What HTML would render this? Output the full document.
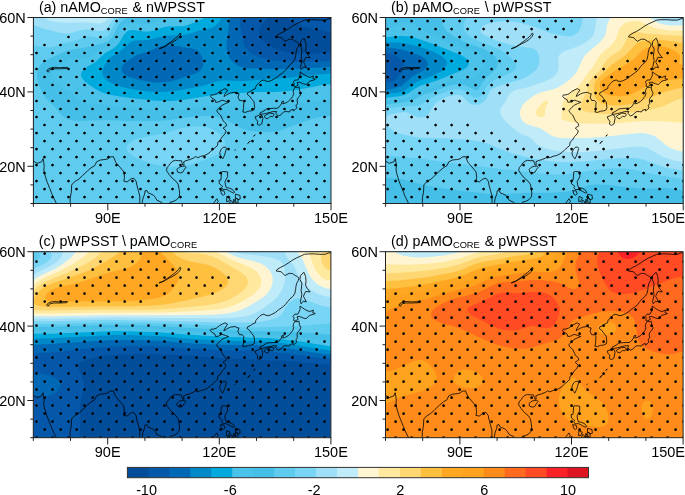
<!DOCTYPE html>
<html><head><meta charset="utf-8"><style>
html,body{margin:0;padding:0;background:#fff;width:685px;height:495px;overflow:hidden}
svg{display:block}
text{font-family:"Liberation Sans",sans-serif;fill:#000}
.lb{font-size:14.5px}
.tt{font-size:14.3px}
.sub{font-size:9.3px}
</style></head><body>
<svg width="685" height="495" viewBox="0 0 685 495">
<defs><clipPath id="cpa"><rect x="33.4" y="17.5" width="297.6" height="186.0"/></clipPath><clipPath id="cpb"><rect x="385.6" y="17.5" width="297.6" height="186.0"/></clipPath><clipPath id="cpc"><rect x="33.3" y="251.7" width="297.6" height="186.0"/></clipPath><clipPath id="cpd"><rect x="385.5" y="251.7" width="297.6" height="186.0"/></clipPath></defs>
<g clip-path="url(#cpa)"><rect x="33.4" y="17.5" width="297.6" height="186.0" fill="#024d9a"/><path fill="#0558a9" fill-rule="evenodd" d="M34.4 17.5 269.0 17.5 265.3 20.7 261.3 25.6 259.4 29.4 258.8 33.4 259.5 36.4 261.4 39.4 265.3 42.9 270.7 46.3 274.6 48.3 279.2 50.1 287.5 52.3 293.2 53.5 313.1 53.6 327.0 52.9 331.0 52.1 331.0 203.5 33.4 203.5 33.4 17.5ZM285.2 17.5 331.0 17.5 331.0 33.1 325.0 31.1 311.1 28.6 304.1 26.7 295.2 23.1Z"/><path fill="#0068b4" fill-rule="evenodd" d="M34.4 17.5 240.9 17.5 240.2 19.5 240.0 21.5 240.3 26.5 242.3 37.4 244.0 43.4 245.8 47.3 248.0 50.3 251.3 53.3 254.6 55.3 260.3 57.6 267.3 59.3 275.3 60.6 286.2 61.6 298.2 61.9 331.0 60.7 331.0 203.5 33.4 203.5 33.4 17.5Z"/><path fill="#0088c8" fill-rule="evenodd" d="M34.4 17.5 230.5 17.5 228.9 25.5 226.7 42.4 226.5 46.3 226.8 50.3 228.2 55.3 230.4 59.3 234.1 63.3 238.4 66.0 242.4 67.3 247.4 68.2 264.3 69.0 284.2 69.1 299.1 68.7 331.0 66.8 331.0 203.5 33.4 203.5 33.4 17.5ZM161.0 46.3 155.8 48.1 147.9 51.8 136.9 55.3 131.9 58.0 125.9 62.3 123.0 65.3 122.0 67.2 121.7 69.2 122.1 71.2 123.3 73.2 125.0 74.8 127.0 76.0 129.9 77.3 135.9 79.1 145.9 81.3 155.8 82.4 164.8 82.3 169.8 81.5 174.7 80.2 194.6 73.7 197.6 72.5 199.6 71.2 202.0 68.2 203.3 64.2 203.3 61.3 203.0 59.3 201.7 56.3 200.0 53.3 198.3 51.3 196.6 50.1 194.6 49.2 191.7 48.5 172.7 45.6 166.8 45.4Z"/><path fill="#00aadd" fill-rule="evenodd" d="M34.4 17.5 221.5 17.5 219.5 21.2 216.5 24.8 213.6 26.9 209.6 28.5 199.6 30.6 189.7 33.7 185.7 34.6 179.7 35.2 165.8 35.8 148.9 39.7 144.9 40.1 136.5 40.4 132.9 41.0 130.9 41.9 129.0 43.2 123.0 49.0 120.0 51.4 110.8 57.3 109.0 58.8 107.0 61.3 104.5 65.2 103.1 68.2 102.4 71.2 102.4 73.2 102.9 75.2 104.0 77.2 105.6 79.2 107.9 81.2 113.1 84.1 120.0 86.6 129.9 88.8 140.9 90.5 151.8 91.7 159.8 92.0 169.8 91.6 176.7 90.8 197.4 87.1 205.4 85.1 216.5 81.6 221.5 80.6 226.5 80.5 238.4 81.1 245.4 80.9 286.2 77.9 303.1 76.3 313.1 74.9 331.0 73.3 331.0 203.5 33.4 203.5 33.4 17.5Z"/><path fill="#4bc2e9" fill-rule="evenodd" d="M34.4 17.5 205.4 17.5 198.6 20.8 187.7 24.9 182.7 26.3 170.8 26.2 166.8 26.6 162.8 27.5 153.8 30.5 148.9 31.6 143.9 31.5 134.9 30.2 131.9 30.1 129.0 30.6 127.0 31.6 124.0 34.8 119.0 43.0 116.0 46.2 113.0 48.5 104.9 53.3 97.1 60.6 94.1 62.9 87.9 66.2 85.1 68.2 82.0 71.2 81.1 73.2 80.9 75.2 82.2 78.2 84.7 81.2 89.5 85.1 95.1 88.8 100.1 91.5 105.1 93.4 111.0 95.0 126.0 97.4 152.8 100.4 162.8 101.1 171.7 101.0 182.7 100.0 211.6 95.3 222.5 94.0 245.4 92.8 257.3 91.9 275.3 91.9 293.2 90.5 310.1 87.6 322.0 85.1 331.0 84.2 331.0 203.5 33.4 203.5 33.4 17.5Z"/><path fill="#45bfe7" fill-rule="evenodd" d="M34.4 17.5 163.6 17.5 153.8 22.8 148.9 24.3 143.9 24.3 132.9 22.7 129.0 22.9 126.0 23.8 123.3 25.5 122.0 27.0 117.5 36.4 115.0 40.4 113.0 42.6 110.0 44.9 99.6 50.3 91.1 56.5 89.1 57.7 85.2 58.3 74.2 58.4 70.2 59.2 67.2 60.4 62.4 63.3 58.1 66.2 54.3 69.6 53.0 71.2 52.0 73.2 52.0 76.2 53.5 80.2 56.3 83.8 58.3 85.5 61.3 87.5 70.9 92.1 77.2 97.8 80.2 99.9 83.2 101.3 87.1 102.7 96.1 104.3 115.0 106.3 144.9 108.5 158.8 110.2 166.8 110.5 180.7 109.8 199.6 106.9 213.6 105.9 226.5 106.2 250.4 108.3 256.4 108.5 262.3 108.2 282.2 106.0 322.0 100.1 331.0 99.4 331.0 203.5 33.4 203.5 33.4 17.5Z"/><path fill="#5ecbef" fill-rule="evenodd" d="M34.4 17.5 127.9 17.5 125.0 18.7 123.0 19.9 120.0 22.7 117.6 26.5 112.9 36.4 111.0 38.8 108.0 41.2 103.1 43.2 86.2 47.3 72.2 49.4 66.2 51.0 45.3 60.6 41.7 63.3 39.2 66.2 38.2 68.2 37.3 71.2 36.9 74.2 37.0 78.2 37.5 81.2 38.7 85.1 42.4 92.9 46.6 99.1 54.6 107.0 61.3 114.8 65.3 117.9 69.2 119.6 73.2 120.5 78.2 120.9 105.1 119.9 127.0 121.0 156.8 121.0 166.8 120.3 195.6 116.4 202.6 115.9 208.6 116.0 216.5 117.0 224.5 119.2 230.5 121.9 240.4 128.0 246.4 130.1 255.4 131.5 270.3 132.0 275.3 131.7 280.2 130.6 303.3 121.9 315.6 118.0 324.0 116.3 331.0 116.0 331.0 203.5 33.4 203.5 33.4 17.5Z"/><path fill="#78d5f5" fill-rule="evenodd" d="M34.4 17.5 119.5 17.5 117.0 20.5 115.0 23.5 109.0 34.7 108.0 35.8 106.1 37.1 103.1 37.8 100.1 38.0 96.1 37.5 90.1 36.2 87.1 36.3 73.2 41.2 61.3 44.1 52.3 47.2 49.3 47.4 33.4 45.3 33.4 17.5ZM189.7 126.9 196.6 126.3 201.6 126.4 206.6 127.2 211.6 128.8 215.5 130.7 218.7 132.9 221.6 135.9 224.1 139.8 225.3 143.8 225.3 146.8 224.2 149.8 222.5 151.8 220.5 153.3 217.6 154.8 204.6 159.8 192.7 164.0 184.7 165.9 174.7 167.0 169.8 166.9 164.8 166.5 154.8 164.5 137.9 158.9 133.9 156.8 131.0 154.8 128.0 151.8 126.8 149.8 126.4 147.8 126.6 146.8 127.0 145.8 128.5 143.8 132.8 140.8 137.5 138.8 143.9 137.2 163.8 133.4 181.7 127.9Z"/><path fill="#9fdff8" fill-rule="evenodd" d="M34.4 17.5 114.4 17.5 107.1 27.8 105.1 29.7 103.1 30.7 99.1 31.1 90.1 29.5 85.2 29.4 80.2 30.3 70.2 33.2 66.2 33.5 59.3 32.7 51.6 30.4 44.3 29.0 33.4 25.0 33.4 17.5Z"/><path fill="#c0ebf9" fill-rule="evenodd" d="M44.3 17.5 109.1 17.5 107.1 19.8 104.1 22.1 101.1 23.3 98.1 23.6 83.2 22.3 66.2 22.7 58.3 22.3 53.3 21.5 50.3 20.7 46.3 18.9 43.8 17.5Z"/><path stroke="#000" stroke-width="2.7" stroke-linecap="round" d="M116.5 21.1h0M132.5 21.1h0M148.5 21.1h0M164.5 21.1h0M180.5 21.1h0M196.5 21.1h0M212.5 21.1h0M228.5 21.1h0M244.5 21.1h0M260.5 21.1h0M276.5 21.1h0M292.5 21.1h0M308.5 21.1h0M324.5 21.1h0M92.5 29.1h0M108.5 29.1h0M124.5 29.1h0M140.5 29.1h0M156.5 29.1h0M172.5 29.1h0M188.5 29.1h0M204.5 29.1h0M220.5 29.1h0M236.5 29.1h0M252.5 29.1h0M268.5 29.1h0M284.5 29.1h0M300.5 29.1h0M316.5 29.1h0M68.5 37.0h0M84.5 37.0h0M100.5 37.0h0M116.5 37.0h0M132.5 37.0h0M148.5 37.0h0M164.5 37.0h0M180.5 37.0h0M196.5 37.0h0M212.5 37.0h0M228.5 37.0h0M244.5 37.0h0M260.5 37.0h0M276.5 37.0h0M292.5 37.0h0M308.5 37.0h0M324.5 37.0h0M44.5 45.0h0M60.5 45.0h0M76.5 45.0h0M92.5 45.0h0M108.5 45.0h0M124.5 45.0h0M140.5 45.0h0M156.5 45.0h0M172.5 45.0h0M188.5 45.0h0M204.5 45.0h0M220.5 45.0h0M236.5 45.0h0M252.5 45.0h0M268.5 45.0h0M284.5 45.0h0M300.5 45.0h0M316.5 45.0h0M36.5 53.0h0M52.5 53.0h0M68.5 53.0h0M84.5 53.0h0M100.5 53.0h0M116.5 53.0h0M132.5 53.0h0M148.5 53.0h0M164.5 53.0h0M180.5 53.0h0M196.5 53.0h0M212.5 53.0h0M228.5 53.0h0M244.5 53.0h0M260.5 53.0h0M276.5 53.0h0M292.5 53.0h0M308.5 53.0h0M324.5 53.0h0M44.5 61.0h0M60.5 61.0h0M76.5 61.0h0M92.5 61.0h0M108.5 61.0h0M124.5 61.0h0M140.5 61.0h0M156.5 61.0h0M172.5 61.0h0M188.5 61.0h0M204.5 61.0h0M220.5 61.0h0M236.5 61.0h0M252.5 61.0h0M268.5 61.0h0M284.5 61.0h0M300.5 61.0h0M316.5 61.0h0M36.5 69.0h0M52.5 69.0h0M68.5 69.0h0M84.5 69.0h0M100.5 69.0h0M116.5 69.0h0M132.5 69.0h0M148.5 69.0h0M164.5 69.0h0M180.5 69.0h0M196.5 69.0h0M212.5 69.0h0M228.5 69.0h0M244.5 69.0h0M260.5 69.0h0M276.5 69.0h0M292.5 69.0h0M308.5 69.0h0M324.5 69.0h0M44.5 77.0h0M60.5 77.0h0M76.5 77.0h0M92.5 77.0h0M108.5 77.0h0M124.5 77.0h0M140.5 77.0h0M156.5 77.0h0M172.5 77.0h0M188.5 77.0h0M204.5 77.0h0M220.5 77.0h0M236.5 77.0h0M252.5 77.0h0M268.5 77.0h0M284.5 77.0h0M300.5 77.0h0M316.5 77.0h0M36.5 85.0h0M52.5 85.0h0M68.5 85.0h0M84.5 85.0h0M100.5 85.0h0M116.5 85.0h0M132.5 85.0h0M148.5 85.0h0M164.5 85.0h0M180.5 85.0h0M196.5 85.0h0M212.5 85.0h0M228.5 85.0h0M244.5 85.0h0M260.5 85.0h0M276.5 85.0h0M292.5 85.0h0M308.5 85.0h0M324.5 85.0h0M44.5 93.0h0M60.5 93.0h0M76.5 93.0h0M92.5 93.0h0M108.5 93.0h0M124.5 93.0h0M140.5 93.0h0M156.5 93.0h0M172.5 93.0h0M188.5 93.0h0M204.5 93.0h0M220.5 93.0h0M236.5 93.0h0M252.5 93.0h0M268.5 93.0h0M284.5 93.0h0M300.5 93.0h0M316.5 93.0h0M36.5 101.0h0M52.5 101.0h0M68.5 101.0h0M84.5 101.0h0M100.5 101.0h0M116.5 101.0h0M132.5 101.0h0M148.5 101.0h0M164.5 101.0h0M180.5 101.0h0M196.5 101.0h0M212.5 101.0h0M228.5 101.0h0M244.5 101.0h0M260.5 101.0h0M276.5 101.0h0M292.5 101.0h0M308.5 101.0h0M324.5 101.0h0M44.5 109.0h0M60.5 109.0h0M76.5 109.0h0M92.5 109.0h0M108.5 109.0h0M124.5 109.0h0M140.5 109.0h0M156.5 109.0h0M172.5 109.0h0M188.5 109.0h0M204.5 109.0h0M220.5 109.0h0M236.5 109.0h0M252.5 109.0h0M268.5 109.0h0M284.5 109.0h0M300.5 109.0h0M316.5 109.0h0M36.5 117.0h0M52.5 117.0h0M68.5 117.0h0M84.5 117.0h0M100.5 117.0h0M116.5 117.0h0M132.5 117.0h0M148.5 117.0h0M164.5 117.0h0M180.5 117.0h0M196.5 117.0h0M212.5 117.0h0M228.5 117.0h0M244.5 117.0h0M260.5 117.0h0M276.5 117.0h0M292.5 117.0h0M308.5 117.0h0M324.5 117.0h0M44.5 125.0h0M60.5 125.0h0M76.5 125.0h0M92.5 125.0h0M108.5 125.0h0M124.5 125.0h0M140.5 125.0h0M156.5 125.0h0M172.5 125.0h0M188.5 125.0h0M204.5 125.0h0M220.5 125.0h0M236.5 125.0h0M252.5 125.0h0M268.5 125.0h0M284.5 125.0h0M300.5 125.0h0M316.5 125.0h0M36.5 133.1h0M52.5 133.1h0M68.5 133.1h0M84.5 133.1h0M100.5 133.1h0M116.5 133.1h0M132.5 133.1h0M148.5 133.1h0M164.5 133.1h0M180.5 133.1h0M196.5 133.1h0M212.5 133.1h0M228.5 133.1h0M244.5 133.1h0M260.5 133.1h0M276.5 133.1h0M292.5 133.1h0M308.5 133.1h0M324.5 133.1h0M44.5 141.1h0M60.5 141.1h0M76.5 141.1h0M92.5 141.1h0M108.5 141.1h0M124.5 141.1h0M140.5 141.1h0M156.5 141.1h0M172.5 141.1h0M188.5 141.1h0M204.5 141.1h0M220.5 141.1h0M236.5 141.1h0M252.5 141.1h0M268.5 141.1h0M284.5 141.1h0M300.5 141.1h0M316.5 141.1h0M36.5 149.1h0M52.5 149.1h0M68.5 149.1h0M84.5 149.1h0M100.5 149.1h0M116.5 149.1h0M132.5 149.1h0M148.5 149.1h0M164.5 149.1h0M180.5 149.1h0M196.5 149.1h0M212.5 149.1h0M228.5 149.1h0M244.5 149.1h0M260.5 149.1h0M276.5 149.1h0M292.5 149.1h0M308.5 149.1h0M324.5 149.1h0M44.5 157.1h0M60.5 157.1h0M76.5 157.1h0M92.5 157.1h0M108.5 157.1h0M124.5 157.1h0M140.5 157.1h0M156.5 157.1h0M172.5 157.1h0M188.5 157.1h0M204.5 157.1h0M220.5 157.1h0M236.5 157.1h0M252.5 157.1h0M268.5 157.1h0M284.5 157.1h0M300.5 157.1h0M316.5 157.1h0M36.5 165.1h0M52.5 165.1h0M68.5 165.1h0M84.5 165.1h0M100.5 165.1h0M116.5 165.1h0M132.5 165.1h0M148.5 165.1h0M164.5 165.1h0M180.5 165.1h0M196.5 165.1h0M212.5 165.1h0M228.5 165.1h0M244.5 165.1h0M260.5 165.1h0M276.5 165.1h0M292.5 165.1h0M308.5 165.1h0M324.5 165.1h0M44.5 173.1h0M60.5 173.1h0M76.5 173.1h0M92.5 173.1h0M108.5 173.1h0M124.5 173.1h0M140.5 173.1h0M156.5 173.1h0M172.5 173.1h0M188.5 173.1h0M204.5 173.1h0M220.5 173.1h0M236.5 173.1h0M252.5 173.1h0M268.5 173.1h0M284.5 173.1h0M300.5 173.1h0M316.5 173.1h0M36.5 181.1h0M52.5 181.1h0M68.5 181.1h0M84.5 181.1h0M100.5 181.1h0M116.5 181.1h0M132.5 181.1h0M148.5 181.1h0M164.5 181.1h0M180.5 181.1h0M196.5 181.1h0M212.5 181.1h0M228.5 181.1h0M244.5 181.1h0M260.5 181.1h0M276.5 181.1h0M292.5 181.1h0M308.5 181.1h0M324.5 181.1h0M44.5 189.1h0M60.5 189.1h0M76.5 189.1h0M92.5 189.1h0M108.5 189.1h0M124.5 189.1h0M140.5 189.1h0M156.5 189.1h0M172.5 189.1h0M188.5 189.1h0M204.5 189.1h0M220.5 189.1h0M236.5 189.1h0M252.5 189.1h0M268.5 189.1h0M284.5 189.1h0M300.5 189.1h0M316.5 189.1h0M36.5 197.1h0M52.5 197.1h0M68.5 197.1h0M84.5 197.1h0M100.5 197.1h0M116.5 197.1h0M132.5 197.1h0M148.5 197.1h0M164.5 197.1h0M180.5 197.1h0M196.5 197.1h0M212.5 197.1h0M228.5 197.1h0M244.5 197.1h0M260.5 197.1h0M276.5 197.1h0M292.5 197.1h0M308.5 197.1h0M324.5 197.1h0"/><path fill="none" stroke="#000" stroke-width="0.8" stroke-linejoin="round" d="M247.7 143.6 249.2 141.7 250.3 141.0 248.8 142.5 247.7 143.6M253.6 136.2 255.1 134.7 254.4 135.8 253.6 136.2M234.7 150.3 235.4 149.6 235.0 150.3M18.5 147.7 27.8 152.2 29.7 156.6 33.4 161.1 37.1 163.3 41.6 161.8 43.1 158.5 43.8 162.6 44.2 166.3 43.8 170.0 44.6 173.7 45.7 177.5 46.8 181.2 48.3 184.9 49.8 188.6 51.3 192.3 52.7 196.1 54.6 199.8 56.1 202.8 57.2 207.2M68.0 207.2 70.2 202.4 70.2 197.9 71.3 192.3 71.7 184.9 74.3 181.9 79.2 178.9 82.9 175.2 87.3 171.1 91.1 167.8 94.8 165.6 96.6 161.8 100.4 160.0 104.1 159.6 107.8 158.9 110.0 157.0 113.4 156.6 114.9 160.3 116.0 162.6 117.5 164.4 120.8 168.2 123.8 171.9 124.5 177.5 123.8 181.2 127.1 181.9 130.9 178.9 133.8 178.2 136.1 181.2 136.8 184.9 138.3 190.5 139.8 196.1 139.8 201.6 139.4 207.2M142.0 207.2 142.4 201.6 143.1 197.9 144.6 194.2 145.0 190.9 146.9 190.5 148.3 193.1 150.6 193.8 153.6 195.3 155.4 197.5 156.9 200.2 159.9 201.6 161.7 202.4 162.9 207.2M169.2 207.2 170.3 202.0 172.9 201.6 176.6 199.8 179.2 196.8 179.6 193.1 179.2 189.4 178.1 184.2 175.9 181.2 172.2 178.2 169.2 174.5 166.6 170.8 166.9 167.8 169.2 165.2 170.3 163.3 172.9 161.1 175.5 160.3 178.5 160.7 181.5 160.7 182.2 163.3 182.9 165.2 184.1 164.8 183.7 161.8 185.9 160.7 189.6 159.6 193.4 158.1 195.6 156.6 197.8 157.7 200.8 156.3 204.5 155.5 207.5 154.0 210.1 152.2 212.7 149.6 214.9 147.7 217.5 145.5 217.9 142.1 220.1 140.3 222.4 136.5 225.0 133.9 226.1 131.0 223.1 128.0 226.5 125.8 226.1 123.5 223.1 120.9 222.4 119.1 220.5 115.0 217.5 112.4 216.8 110.5 219.8 107.2 222.0 105.3 225.0 103.8 228.7 102.3 225.4 101.2 222.0 100.1 218.7 101.9 215.7 102.3 214.9 99.7 212.0 98.2 210.5 96.4 211.2 94.9 213.8 94.9 216.8 93.8 219.4 91.5 222.4 90.0 225.0 88.6 227.6 90.0 226.1 92.3 225.0 94.1 223.9 96.4 225.7 95.6 228.0 94.1 230.6 93.0 235.0 92.3 237.3 93.4 239.1 93.8 238.0 97.1 239.5 100.5 242.1 100.5 244.0 102.3 243.6 104.9 243.6 108.6 242.8 112.0 245.4 112.4 248.4 111.2 251.4 110.9 254.0 109.8 254.7 107.5 254.4 104.9 254.0 101.9 251.4 98.6 249.5 96.0 247.3 94.5 247.7 92.6 250.3 91.5 252.9 89.7 255.5 88.6 255.9 86.3 258.1 83.7 259.6 82.2 261.4 80.7 264.0 80.0 265.9 81.1 268.5 81.5 271.5 80.4 275.2 78.5 278.9 75.5 282.6 72.9 285.6 70.3 287.8 67.3 290.1 64.7 293.1 62.1 294.9 59.2 295.7 55.4 296.0 52.5 296.8 49.1 298.3 46.5 299.0 43.9 297.5 42.4 295.3 41.3 292.7 39.4 289.3 39.1 285.2 41.3 282.6 39.1 281.5 37.6 276.3 36.8 277.1 35.4 280.8 33.1 284.5 31.3 288.2 29.0 291.9 26.4 296.4 23.8 300.5 22.0 304.6 20.1 308.7 19.7 314.3 19.7 319.8 20.1 325.4 20.1 329.1 18.6 334.7 19.0M223.1 147.3 225.4 147.0 226.5 148.4 225.4 152.2 224.6 155.1 222.7 158.9 221.6 157.4 220.1 155.1 219.8 152.5 220.9 149.9 222.4 148.1 223.1 147.3M177.0 169.3 177.4 171.9 180.3 173.0 182.6 172.3 184.4 169.3 185.9 167.4 184.8 165.9 182.6 166.3 180.3 166.7 178.5 167.8 177.0 169.3M300.1 71.8 303.1 74.0 306.1 75.9 309.8 77.4 313.5 75.9 312.8 78.5 315.4 79.3 313.9 80.0 309.8 81.1 306.1 84.5 303.1 83.7 299.4 82.2 297.1 82.6 298.3 85.2 295.3 86.7 293.8 86.3 294.2 83.7 293.1 82.2 294.9 80.0 297.9 80.0 299.0 77.8 300.1 75.5 300.1 71.8M299.0 86.7 299.4 90.0 300.9 93.4 299.8 96.0 297.9 97.9 297.1 100.1 297.5 103.4 296.0 105.7 296.8 107.9 294.9 109.8 293.4 110.9 293.1 109.0 292.3 109.8 290.5 110.1 289.3 112.0 287.5 111.6 284.5 111.6 282.3 113.1 281.2 114.6 278.2 116.1 275.6 113.1 276.7 111.6 272.6 111.6 268.9 112.7 265.5 113.5 262.6 114.2 259.9 114.2 260.3 112.7 262.9 111.6 266.6 109.0 269.2 108.6 273.3 108.3 277.1 108.3 279.3 106.8 281.5 103.8 281.9 101.6 283.8 101.2 282.6 103.8 284.9 103.4 288.2 101.6 290.5 99.3 292.7 96.4 293.8 93.4 293.1 91.9 293.8 89.3 294.9 87.4 297.1 87.4 298.3 87.4 299.0 86.7M259.9 114.6 262.2 115.7 262.9 118.3 261.8 123.9 259.2 125.4 257.3 124.3 257.7 121.3 255.9 119.1 255.1 116.8 258.1 115.7 259.9 114.6M264.0 116.5 265.9 118.3 267.8 118.7 270.4 116.1 272.6 116.8 274.1 115.0 273.3 113.5 269.6 113.1 267.8 114.2 265.9 115.0 264.0 116.5M301.2 69.6 300.5 67.3 301.2 64.0 302.0 60.3 301.2 56.6 301.6 52.8 302.0 49.1 300.1 45.4 300.5 41.7 303.1 38.7 304.2 38.3 305.7 42.4 306.1 46.5 305.7 51.0 307.2 54.0 310.2 57.7 305.7 57.3 303.5 62.1 305.0 64.7 306.4 67.7 303.5 67.0 301.2 69.6M159.1 48.7 161.7 48.0 165.5 46.1 169.2 43.9 172.9 42.1 176.6 39.8 179.6 36.8 181.1 33.9 180.0 33.1 178.5 35.4 175.5 38.3 171.0 41.7 167.3 44.3 163.6 46.9 160.6 48.0 159.1 48.7M48.3 72.2 46.8 71.1 47.5 69.6 50.1 68.1 53.9 67.3 59.4 67.7 67.6 67.3 66.9 68.5 59.4 68.8 53.9 68.8 50.1 69.6 48.3 71.1 49.4 71.8M221.6 171.9 223.1 171.5 227.6 171.9 227.6 176.7 225.0 181.6 225.4 184.9 226.5 187.9 228.7 187.9 232.4 189.4 234.7 192.3 233.5 193.1 230.6 191.6 228.7 190.5 226.1 189.4 223.1 189.7 221.6 187.5 222.7 186.4 221.6 185.6 219.4 183.8 219.0 180.4 220.9 180.1 221.6 171.9M220.5 190.5 223.9 190.9 225.0 193.8 223.5 195.3 221.6 194.2 220.5 190.5M226.8 196.4 230.2 197.9 228.7 201.3 226.5 201.6 226.8 196.4M235.4 194.2 239.9 195.3 240.2 199.0 238.0 199.8 235.4 197.5 235.4 194.2M230.6 200.2 232.4 201.6 231.3 205.4 228.7 205.0 230.6 200.2M235.4 197.9 238.0 199.0 238.0 203.1 235.8 202.8 235.4 197.9M233.9 199.0 234.7 201.6 232.8 204.2 233.9 199.0M216.8 198.7 218.3 201.6 213.8 206.1 209.4 209.5 211.2 206.5 216.8 198.7M70.2 204.2 71.7 204.2 74.3 209.1 69.9 210.9 70.2 204.2"/></g>
<rect x="33.4" y="17.5" width="297.6" height="186.0" fill="none" stroke="#222" stroke-width="1"/>
<path stroke="#222" stroke-width="1" d="M30.4 203.5h3.0M30.4 184.9h3.0M27.4 166.3h6.0M30.4 147.7h3.0M30.4 129.1h3.0M30.4 110.5h3.0M27.4 91.9h6.0M30.4 73.3h3.0M30.4 54.7h3.0M30.4 36.1h3.0M27.4 17.5h6.0M33.4 203.5v3.2M70.6 203.5v3.2M107.8 203.5v6.8M145.0 203.5v3.2M182.2 203.5v3.2M219.4 203.5v6.8M256.6 203.5v3.2M293.8 203.5v3.2M331.0 203.5v6.8"/>
<g clip-path="url(#cpb)"><rect x="385.6" y="17.5" width="297.6" height="186.0" fill="#024d9a"/><path fill="#0558a9" fill-rule="evenodd" d="M386.6 17.5 683.2 17.5 683.2 203.5 385.6 203.5 385.6 17.5Z"/><path fill="#0068b4" fill-rule="evenodd" d="M386.6 17.5 683.2 17.5 683.2 203.5 385.6 203.5 385.6 82.5 388.6 82.3 391.6 81.4 394.0 80.2 396.5 78.2 398.9 75.2 401.1 71.2 402.6 68.2 403.4 65.2 403.2 63.3 402.4 61.3 400.7 59.3 398.5 57.6 395.6 56.0 391.6 54.4 388.6 53.6 385.6 53.2 385.6 17.5Z"/><path fill="#0088c8" fill-rule="evenodd" d="M386.6 17.5 683.2 17.5 683.2 203.5 385.6 203.5 385.6 89.9 389.6 89.5 395.5 88.1 398.6 87.1 401.5 85.7 412.5 76.5 423.7 70.2 426.7 67.2 427.4 65.9 427.8 64.2 427.4 62.2 425.3 59.3 422.7 57.3 418.6 55.3 407.6 51.3 401.5 49.6 393.6 48.2 385.6 47.6 385.6 17.5Z"/><path fill="#00aadd" fill-rule="evenodd" d="M386.6 17.5 683.2 17.5 683.2 203.5 385.6 203.5 385.6 94.3 398.5 92.5 402.5 91.5 404.5 90.7 413.5 83.9 417.5 81.6 433.8 75.2 440.3 72.0 442.7 70.2 445.5 67.2 446.6 65.2 447.0 63.3 446.5 61.3 445.3 59.3 441.3 55.9 434.4 52.3 424.4 48.3 414.4 45.4 405.5 43.5 396.5 42.6 385.6 42.6 385.6 17.5Z"/><path fill="#4bc2e9" fill-rule="evenodd" d="M386.6 17.5 683.2 17.5 683.2 203.5 385.6 203.5 385.6 97.8 399.5 96.2 405.5 94.7 408.7 93.1 416.5 87.7 420.4 85.7 437.9 80.2 451.3 74.4 462.5 70.2 466.8 67.2 468.3 65.2 468.9 63.3 468.6 61.3 467.2 59.3 464.6 57.3 460.2 54.8 432.4 43.7 416.5 38.2 409.5 36.5 402.5 36.0 397.5 36.1 385.6 37.3 385.6 17.5Z"/><path fill="#45bfe7" fill-rule="evenodd" d="M386.6 17.5 683.2 17.5 683.2 203.5 385.6 203.5 385.6 101.1 399.5 99.6 406.5 98.2 411.4 96.1 418.4 91.6 421.4 90.2 438.4 85.3 448.3 81.3 452.3 80.0 458.3 79.0 470.2 78.5 473.2 77.7 476.7 75.2 482.3 69.2 484.6 65.2 485.2 62.3 484.5 59.3 483.5 57.3 481.8 55.3 479.1 53.3 459.3 46.5 440.7 39.4 425.5 31.4 415.5 25.6 410.5 23.4 407.5 22.7 404.5 22.8 401.5 23.7 391.6 27.7 388.6 28.5 385.6 28.8 385.6 17.5Z"/><path fill="#5ecbef" fill-rule="evenodd" d="M442.3 17.5 683.2 17.5 683.2 190.5 678.2 189.6 665.3 188.0 647.4 188.7 639.4 188.5 628.5 187.6 608.6 184.9 596.6 184.4 589.6 185.0 574.7 190.2 569.7 191.3 563.8 192.1 549.8 192.7 521.0 193.1 500.1 194.3 493.1 194.3 457.3 190.6 433.4 187.1 424.4 185.3 404.5 179.8 396.5 178.6 385.6 177.4 385.6 104.6 401.5 102.8 410.5 101.1 414.5 99.6 420.6 96.1 423.4 94.8 439.3 89.6 449.3 85.8 454.3 84.6 459.3 84.3 464.2 85.1 468.2 86.5 475.2 90.1 477.2 90.3 478.2 89.7 479.2 88.5 481.5 84.1 484.3 80.2 487.1 77.1 494.7 70.2 496.3 68.2 497.4 66.2 497.9 63.3 497.7 61.3 496.9 59.3 494.8 56.3 491.1 53.3 486.2 50.3 482.1 48.3 468.5 43.4 459.4 39.4 452.6 35.4 447.3 31.4 444.6 28.4 442.6 24.5 441.8 21.5 441.4 17.5Z"/><path fill="#78d5f5" fill-rule="evenodd" d="M466.2 18.4 466.9 17.5 683.2 17.5 683.2 178.9 658.3 175.3 633.4 169.7 628.5 168.9 623.5 168.6 611.5 168.4 605.6 168.8 590.6 170.4 572.7 173.4 563.8 174.5 555.8 174.7 546.8 174.3 516.0 170.2 504.0 169.4 488.1 167.6 418.4 158.4 406.5 157.2 391.6 156.1 385.6 155.2 385.6 108.5 403.5 106.5 414.5 106.0 418.4 105.4 421.4 104.2 429.1 99.1 435.2 96.1 448.3 90.9 455.3 89.3 459.3 89.3 462.2 89.9 465.2 91.3 471.2 95.6 473.2 96.7 476.2 97.4 478.2 97.2 480.2 96.4 482.1 94.7 487.1 86.1 491.1 82.3 497.1 78.8 511.8 72.2 514.0 70.8 515.4 69.2 516.2 66.2 515.9 64.2 514.9 62.3 511.4 58.3 505.3 53.3 500.6 50.3 496.1 48.1 488.1 44.7 475.2 39.8 469.8 36.4 466.4 33.4 464.3 30.4 463.6 28.4 463.3 26.5 464.0 22.5Z"/><path fill="#9fdff8" fill-rule="evenodd" d="M583.7 17.5 683.2 17.5 683.2 170.5 673.2 169.0 665.3 167.4 659.3 165.5 644.4 159.9 639.4 158.7 634.4 158.1 626.5 158.0 615.5 158.4 582.7 161.6 568.7 162.3 557.8 162.0 543.9 160.5 531.9 158.2 512.9 153.8 504.7 150.8 488.1 143.8 483.1 142.2 477.2 140.9 469.2 139.8 444.3 138.3 421.4 137.8 415.0 136.9 399.5 133.5 395.6 132.2 392.6 130.4 389.6 127.9 386.3 123.9 385.6 122.5 385.6 118.0 386.2 117.0 388.5 115.0 391.8 114.0 401.5 112.3 404.5 112.1 408.2 113.0 415.5 116.2 418.4 117.3 421.4 117.6 424.4 117.0 426.4 116.0 428.4 114.1 433.3 106.0 435.9 103.0 440.5 100.1 445.3 97.6 453.3 95.3 458.3 94.8 460.2 95.1 461.2 95.5 463.2 97.1 468.2 102.3 470.2 103.6 472.2 104.4 476.2 104.7 480.2 103.9 483.1 102.3 485.5 100.1 487.3 97.1 489.8 91.1 492.1 89.1 495.1 87.5 498.6 86.1 509.0 82.8 518.5 80.2 523.0 78.6 529.3 75.2 532.2 73.2 535.6 70.2 537.2 68.2 538.7 65.2 539.4 60.3 539.3 57.3 538.6 54.3 537.7 52.3 535.9 50.1 533.9 48.8 530.9 47.8 518.0 46.5 511.0 44.8 496.1 40.4 485.2 35.4 481.9 33.4 481.1 32.4 480.5 30.4 481.1 28.4 481.7 27.4 483.1 26.1 485.6 24.5 491.1 22.6 500.1 21.4 507.0 21.1 514.0 21.8 522.0 23.2 530.0 25.5 537.9 28.0 548.8 32.4 553.8 33.9 562.8 35.8 569.7 36.3 572.7 35.7 575.2 34.4 577.7 32.4 579.4 30.4 581.2 26.5 582.9 17.5Z"/><path fill="#c0ebf9" fill-rule="evenodd" d="M597.6 17.5 660.4 17.5 664.3 19.3 668.3 20.0 674.2 20.2 683.2 19.9 683.2 161.9 675.2 160.7 667.3 158.5 661.0 155.8 648.4 148.6 645.4 147.5 641.4 146.8 634.4 146.8 587.6 152.1 568.7 152.1 558.8 151.2 550.8 149.7 544.2 147.8 538.9 145.6 535.9 143.6 531.6 138.8 529.9 137.4 527.9 136.4 522.0 134.4 518.0 132.1 507.1 122.9 503.4 119.0 501.4 116.0 500.5 114.0 500.1 112.0 500.1 110.0 500.8 108.0 502.1 106.0 505.4 102.0 508.1 96.1 509.7 94.1 511.8 92.1 515.0 90.1 526.9 87.4 545.2 81.2 551.6 78.2 555.4 75.2 557.3 72.2 558.3 69.2 558.6 66.2 558.1 58.3 559.1 55.3 561.1 53.3 564.4 51.3 576.7 46.8 582.7 44.0 587.1 41.4 590.6 38.6 592.6 36.2 594.3 32.4 595.0 29.4 596.2 20.5 597.0 17.5Z"/><path fill="#fff5d2" fill-rule="evenodd" d="M610.5 18.3 611.4 17.5 649.7 17.5 656.3 22.0 659.6 23.5 663.3 24.6 670.3 25.5 683.2 25.4 683.2 151.7 677.2 150.6 670.3 147.8 666.3 145.4 659.3 139.4 655.3 136.6 650.4 134.4 645.4 133.2 641.4 133.0 636.4 133.2 604.6 136.7 586.7 137.9 565.8 138.3 557.8 137.6 553.8 136.5 550.8 135.2 540.9 128.4 530.9 125.6 526.7 123.9 523.6 121.9 521.3 119.0 520.0 115.0 519.9 113.0 520.3 110.0 522.0 106.0 523.4 104.0 525.5 102.0 533.3 96.1 537.9 93.5 541.9 92.1 552.8 89.5 556.5 88.1 559.8 86.5 567.5 81.2 571.0 78.2 574.7 74.5 577.2 71.2 582.0 60.3 585.2 55.3 588.0 52.3 595.3 46.3 599.6 42.4 604.0 37.4 605.8 33.4 607.3 23.5 608.6 20.9Z"/><path fill="#ffe99e" fill-rule="evenodd" d="M629.5 21.4 634.4 20.9 639.4 21.6 643.4 23.0 652.3 27.1 656.8 28.4 662.3 29.6 669.3 30.4 683.2 30.6 683.2 123.1 665.3 121.6 649.4 120.9 641.4 121.3 615.5 123.5 601.6 123.7 582.7 123.5 577.7 123.1 570.3 121.9 566.0 120.9 562.8 119.6 561.8 118.6 561.4 117.0 562.3 105.0 563.0 102.0 564.6 99.1 569.2 94.1 576.7 87.8 579.7 84.7 586.7 74.6 593.0 67.2 597.9 58.3 600.8 54.3 604.6 50.5 611.0 45.4 613.5 42.6 615.9 38.4 619.1 29.4 621.0 26.5 624.5 23.4 626.5 22.4ZM544.9 101.0 546.8 100.6 547.7 101.1 548.1 102.0 547.8 103.4 545.9 107.0 545.2 109.0 544.9 115.1 544.4 116.0 542.9 116.9 540.9 117.2 538.9 117.0 537.4 116.0 536.2 114.0 536.1 112.0 536.6 110.0 538.9 106.8 542.4 103.0Z"/><path fill="#fed672" fill-rule="evenodd" d="M631.4 32.4 633.4 31.8 636.4 31.8 646.4 33.7 654.3 33.9 667.3 35.3 683.2 36.1 683.2 98.0 677.2 99.8 664.3 105.8 659.3 107.5 646.4 110.4 632.4 112.6 617.5 114.0 605.6 114.0 597.6 113.4 588.6 112.2 584.7 111.3 582.7 110.3 581.3 109.0 580.8 108.0 580.5 106.0 580.8 104.0 582.0 101.1 586.7 91.9 587.6 89.1 589.1 83.1 591.0 79.2 593.6 75.9 599.3 71.2 605.1 62.3 608.6 58.2 611.5 55.7 618.9 51.3 621.2 49.3 623.5 45.7 628.5 35.5 630.1 33.4Z"/><path fill="#ffc040" fill-rule="evenodd" d="M648.4 40.3 654.3 39.5 659.3 39.6 677.2 42.1 683.2 43.4 683.2 87.5 675.4 89.1 664.3 92.0 641.4 101.1 635.1 103.0 628.5 104.4 618.5 105.4 609.5 105.1 603.6 103.9 600.6 102.8 598.6 101.5 596.6 99.4 595.3 97.1 594.5 94.1 594.1 91.1 594.0 87.1 594.3 84.1 595.3 81.2 596.6 79.2 598.5 77.2 603.2 73.2 611.5 64.9 625.5 55.3 635.5 44.4 637.4 43.0 640.4 41.8Z"/><path fill="#ffa622" fill-rule="evenodd" d="M652.3 46.1 655.3 45.5 657.3 45.4 665.3 47.1 669.1 48.3 673.8 50.3 678.3 53.3 679.2 54.3 680.0 56.3 680.0 58.3 679.2 62.3 679.3 63.3 680.6 64.2 683.2 64.6 683.2 78.4 670.3 80.0 659.3 81.9 654.3 83.1 647.4 85.8 633.4 93.3 628.7 95.1 625.5 95.8 618.5 96.2 609.5 95.2 605.6 93.9 602.6 91.6 600.6 88.5 599.8 85.1 600.1 82.2 600.6 81.2 601.5 80.2 612.5 72.3 630.4 61.7 634.4 58.4 640.4 52.2 643.4 49.6 646.4 48.1Z"/><path stroke="#000" stroke-width="2.7" stroke-linecap="round" d="M395.6 21.1h0M411.6 21.1h0M427.6 21.1h0M443.6 21.1h0M459.6 21.1h0M475.6 21.1h0M491.6 21.1h0M507.6 21.1h0M523.6 21.1h0M539.6 21.1h0M555.6 21.1h0M571.6 21.1h0M387.6 29.1h0M403.6 29.1h0M419.6 29.1h0M435.6 29.1h0M451.6 29.1h0M467.6 29.1h0M483.6 29.1h0M499.6 29.1h0M515.6 29.1h0M531.6 29.1h0M547.6 29.1h0M563.6 29.1h0M395.6 37.1h0M411.6 37.1h0M427.6 37.1h0M443.6 37.1h0M459.6 37.1h0M475.6 37.1h0M491.6 37.1h0M507.6 37.1h0M523.6 37.1h0M539.6 37.1h0M555.6 37.1h0M387.6 45.1h0M403.6 45.1h0M419.6 45.1h0M435.6 45.1h0M451.6 45.1h0M467.6 45.1h0M483.6 45.1h0M499.6 45.1h0M659.6 45.1h0M675.6 45.1h0M395.6 53.1h0M411.6 53.1h0M427.6 53.1h0M443.6 53.1h0M459.6 53.1h0M475.6 53.1h0M491.6 53.1h0M507.6 53.1h0M651.6 53.1h0M667.6 53.1h0M683.6 53.1h0M387.6 61.1h0M403.6 61.1h0M419.6 61.1h0M435.6 61.1h0M451.6 61.1h0M467.6 61.1h0M483.6 61.1h0M499.6 61.1h0M515.6 61.1h0M627.6 61.1h0M643.6 61.1h0M659.6 61.1h0M675.6 61.1h0M395.6 69.1h0M411.6 69.1h0M427.6 69.1h0M443.6 69.1h0M459.6 69.1h0M475.6 69.1h0M491.6 69.1h0M507.6 69.1h0M603.6 69.1h0M619.6 69.1h0M635.6 69.1h0M651.6 69.1h0M667.6 69.1h0M683.6 69.1h0M387.6 77.1h0M403.6 77.1h0M419.6 77.1h0M435.6 77.1h0M451.6 77.1h0M467.6 77.1h0M483.6 77.1h0M499.6 77.1h0M515.6 77.1h0M595.6 77.1h0M611.6 77.1h0M627.6 77.1h0M643.6 77.1h0M659.6 77.1h0M675.6 77.1h0M395.6 85.1h0M411.6 85.1h0M427.6 85.1h0M443.6 85.1h0M459.6 85.1h0M475.6 85.1h0M491.6 85.1h0M507.6 85.1h0M587.6 85.1h0M603.6 85.1h0M619.6 85.1h0M635.6 85.1h0M651.6 85.1h0M667.6 85.1h0M683.6 85.1h0M387.6 93.1h0M403.6 93.1h0M419.6 93.1h0M435.6 93.1h0M451.6 93.1h0M467.6 93.1h0M483.6 93.1h0M499.6 93.1h0M595.6 93.1h0M611.6 93.1h0M627.6 93.1h0M643.6 93.1h0M659.6 93.1h0M395.6 101.1h0M411.6 101.1h0M427.6 101.1h0M443.6 101.1h0M459.6 101.1h0M475.6 101.1h0M571.6 101.1h0M587.6 101.1h0M603.6 101.1h0M619.6 101.1h0M635.6 101.1h0M651.6 101.1h0M387.6 109.1h0M403.6 109.1h0M419.6 109.1h0M435.6 109.1h0M563.6 109.1h0M579.6 109.1h0M595.6 109.1h0M611.6 109.1h0M627.6 109.1h0M395.6 117.1h0M411.6 117.1h0M427.6 117.1h0M635.6 117.1h0M387.6 125.1h0M435.6 125.1h0M451.6 125.1h0M467.6 125.1h0M395.6 133.1h0M411.6 133.1h0M427.6 133.1h0M443.6 133.1h0M459.6 133.1h0M475.6 133.1h0M491.6 133.1h0M387.6 141.1h0M403.6 141.1h0M419.6 141.1h0M435.6 141.1h0M451.6 141.1h0M467.6 141.1h0M483.6 141.1h0M499.6 141.1h0M515.6 141.1h0M595.6 141.1h0M395.6 149.1h0M411.6 149.1h0M427.6 149.1h0M443.6 149.1h0M459.6 149.1h0M475.6 149.1h0M491.6 149.1h0M507.6 149.1h0M523.6 149.1h0M539.6 149.1h0M571.6 149.1h0M587.6 149.1h0M603.6 149.1h0M387.6 157.1h0M403.6 157.1h0M419.6 157.1h0M435.6 157.1h0M451.6 157.1h0M467.6 157.1h0M483.6 157.1h0M499.6 157.1h0M515.6 157.1h0M531.6 157.1h0M547.6 157.1h0M563.6 157.1h0M579.6 157.1h0M595.6 157.1h0M611.6 157.1h0M627.6 157.1h0M395.6 165.1h0M411.6 165.1h0M427.6 165.1h0M443.6 165.1h0M459.6 165.1h0M475.6 165.1h0M491.6 165.1h0M507.6 165.1h0M523.6 165.1h0M539.6 165.1h0M555.6 165.1h0M571.6 165.1h0M587.6 165.1h0M603.6 165.1h0M619.6 165.1h0M635.6 165.1h0M651.6 165.1h0M667.6 165.1h0M683.6 165.1h0M387.6 173.1h0M403.6 173.1h0M419.6 173.1h0M435.6 173.1h0M451.6 173.1h0M467.6 173.1h0M483.6 173.1h0M499.6 173.1h0M515.6 173.1h0M531.6 173.1h0M547.6 173.1h0M563.6 173.1h0M579.6 173.1h0M595.6 173.1h0M611.6 173.1h0M627.6 173.1h0M643.6 173.1h0M659.6 173.1h0M675.6 173.1h0M395.6 181.1h0M411.6 181.1h0M427.6 181.1h0M443.6 181.1h0M459.6 181.1h0M475.6 181.1h0M491.6 181.1h0M507.6 181.1h0M523.6 181.1h0M539.6 181.1h0M555.6 181.1h0M571.6 181.1h0M587.6 181.1h0M603.6 181.1h0M619.6 181.1h0M635.6 181.1h0M651.6 181.1h0M667.6 181.1h0M683.6 181.1h0M387.6 189.1h0M403.6 189.1h0M419.6 189.1h0M435.6 189.1h0M451.6 189.1h0M467.6 189.1h0M483.6 189.1h0M499.6 189.1h0M515.6 189.1h0M531.6 189.1h0M547.6 189.1h0M563.6 189.1h0M579.6 189.1h0M595.6 189.1h0M611.6 189.1h0M627.6 189.1h0M643.6 189.1h0M659.6 189.1h0M675.6 189.1h0M395.6 197.1h0M411.6 197.1h0M427.6 197.1h0M443.6 197.1h0M459.6 197.1h0M475.6 197.1h0M491.6 197.1h0M507.6 197.1h0M523.6 197.1h0M539.6 197.1h0M555.6 197.1h0M571.6 197.1h0M587.6 197.1h0M603.6 197.1h0M619.6 197.1h0M635.6 197.1h0M651.6 197.1h0M667.6 197.1h0M683.6 197.1h0"/><path fill="none" stroke="#000" stroke-width="0.8" stroke-linejoin="round" d="M599.9 143.6 601.4 141.7 602.5 141.0 601.0 142.5 599.9 143.6M605.8 136.2 607.3 134.7 606.6 135.8 605.8 136.2M586.9 150.3 587.6 149.6 587.2 150.3M370.7 147.7 380.0 152.2 381.9 156.6 385.6 161.1 389.3 163.3 393.8 161.8 395.3 158.5 396.0 162.6 396.4 166.3 396.0 170.0 396.8 173.7 397.9 177.5 399.0 181.2 400.5 184.9 402.0 188.6 403.5 192.3 404.9 196.1 406.8 199.8 408.3 202.8 409.4 207.2M420.2 207.2 422.4 202.4 422.4 197.9 423.5 192.3 423.9 184.9 426.5 181.9 431.4 178.9 435.1 175.2 439.5 171.1 443.3 167.8 447.0 165.6 448.8 161.8 452.6 160.0 456.3 159.6 460.0 158.9 462.2 157.0 465.6 156.6 467.1 160.3 468.2 162.6 469.7 164.4 473.0 168.2 476.0 171.9 476.7 177.5 476.0 181.2 479.3 181.9 483.1 178.9 486.0 178.2 488.3 181.2 489.0 184.9 490.5 190.5 492.0 196.1 492.0 201.6 491.6 207.2M494.2 207.2 494.6 201.6 495.3 197.9 496.8 194.2 497.2 190.9 499.1 190.5 500.5 193.1 502.8 193.8 505.8 195.3 507.6 197.5 509.1 200.2 512.1 201.6 513.9 202.4 515.1 207.2M521.4 207.2 522.5 202.0 525.1 201.6 528.8 199.8 531.4 196.8 531.8 193.1 531.4 189.4 530.3 184.2 528.1 181.2 524.4 178.2 521.4 174.5 518.8 170.8 519.1 167.8 521.4 165.2 522.5 163.3 525.1 161.1 527.7 160.3 530.7 160.7 533.7 160.7 534.4 163.3 535.1 165.2 536.3 164.8 535.9 161.8 538.1 160.7 541.8 159.6 545.6 158.1 547.8 156.6 550.0 157.7 553.0 156.3 556.7 155.5 559.7 154.0 562.3 152.2 564.9 149.6 567.1 147.7 569.7 145.5 570.1 142.1 572.3 140.3 574.6 136.5 577.2 133.9 578.3 131.0 575.3 128.0 578.7 125.8 578.3 123.5 575.3 120.9 574.6 119.1 572.7 115.0 569.7 112.4 569.0 110.5 572.0 107.2 574.2 105.3 577.2 103.8 580.9 102.3 577.6 101.2 574.2 100.1 570.9 101.9 567.9 102.3 567.1 99.7 564.2 98.2 562.7 96.4 563.4 94.9 566.0 94.9 569.0 93.8 571.6 91.5 574.6 90.0 577.2 88.6 579.8 90.0 578.3 92.3 577.2 94.1 576.1 96.4 577.9 95.6 580.2 94.1 582.8 93.0 587.2 92.3 589.5 93.4 591.3 93.8 590.2 97.1 591.7 100.5 594.3 100.5 596.2 102.3 595.8 104.9 595.8 108.6 595.0 112.0 597.6 112.4 600.6 111.2 603.6 110.9 606.2 109.8 606.9 107.5 606.6 104.9 606.2 101.9 603.6 98.6 601.7 96.0 599.5 94.5 599.9 92.6 602.5 91.5 605.1 89.7 607.7 88.6 608.1 86.3 610.3 83.7 611.8 82.2 613.6 80.7 616.2 80.0 618.1 81.1 620.7 81.5 623.7 80.4 627.4 78.5 631.1 75.5 634.8 72.9 637.8 70.3 640.0 67.3 642.3 64.7 645.3 62.1 647.1 59.2 647.9 55.4 648.2 52.5 649.0 49.1 650.5 46.5 651.2 43.9 649.7 42.4 647.5 41.3 644.9 39.4 641.5 39.1 637.4 41.3 634.8 39.1 633.7 37.6 628.5 36.8 629.3 35.4 633.0 33.1 636.7 31.3 640.4 29.0 644.1 26.4 648.6 23.8 652.7 22.0 656.8 20.1 660.9 19.7 666.5 19.7 672.0 20.1 677.6 20.1 681.3 18.6 686.9 19.0M575.3 147.3 577.6 147.0 578.7 148.4 577.6 152.2 576.8 155.1 574.9 158.9 573.8 157.4 572.3 155.1 572.0 152.5 573.1 149.9 574.6 148.1 575.3 147.3M529.2 169.3 529.6 171.9 532.5 173.0 534.8 172.3 536.6 169.3 538.1 167.4 537.0 165.9 534.8 166.3 532.5 166.7 530.7 167.8 529.2 169.3M652.3 71.8 655.3 74.0 658.3 75.9 662.0 77.4 665.7 75.9 665.0 78.5 667.6 79.3 666.1 80.0 662.0 81.1 658.3 84.5 655.3 83.7 651.6 82.2 649.3 82.6 650.5 85.2 647.5 86.7 646.0 86.3 646.4 83.7 645.3 82.2 647.1 80.0 650.1 80.0 651.2 77.8 652.3 75.5 652.3 71.8M651.2 86.7 651.6 90.0 653.1 93.4 652.0 96.0 650.1 97.9 649.3 100.1 649.7 103.4 648.2 105.7 649.0 107.9 647.1 109.8 645.6 110.9 645.3 109.0 644.5 109.8 642.7 110.1 641.5 112.0 639.7 111.6 636.7 111.6 634.5 113.1 633.4 114.6 630.4 116.1 627.8 113.1 628.9 111.6 624.8 111.6 621.1 112.7 617.7 113.5 614.8 114.2 612.1 114.2 612.5 112.7 615.1 111.6 618.8 109.0 621.4 108.6 625.5 108.3 629.3 108.3 631.5 106.8 633.7 103.8 634.1 101.6 636.0 101.2 634.8 103.8 637.1 103.4 640.4 101.6 642.7 99.3 644.9 96.4 646.0 93.4 645.3 91.9 646.0 89.3 647.1 87.4 649.3 87.4 650.5 87.4 651.2 86.7M612.1 114.6 614.4 115.7 615.1 118.3 614.0 123.9 611.4 125.4 609.5 124.3 609.9 121.3 608.1 119.1 607.3 116.8 610.3 115.7 612.1 114.6M616.2 116.5 618.1 118.3 620.0 118.7 622.6 116.1 624.8 116.8 626.3 115.0 625.5 113.5 621.8 113.1 620.0 114.2 618.1 115.0 616.2 116.5M653.4 69.6 652.7 67.3 653.4 64.0 654.2 60.3 653.4 56.6 653.8 52.8 654.2 49.1 652.3 45.4 652.7 41.7 655.3 38.7 656.4 38.3 657.9 42.4 658.3 46.5 657.9 51.0 659.4 54.0 662.4 57.7 657.9 57.3 655.7 62.1 657.2 64.7 658.6 67.7 655.7 67.0 653.4 69.6M511.3 48.7 513.9 48.0 517.7 46.1 521.4 43.9 525.1 42.1 528.8 39.8 531.8 36.8 533.3 33.9 532.2 33.1 530.7 35.4 527.7 38.3 523.2 41.7 519.5 44.3 515.8 46.9 512.8 48.0 511.3 48.7M400.5 72.2 399.0 71.1 399.7 69.6 402.3 68.1 406.1 67.3 411.6 67.7 419.8 67.3 419.1 68.5 411.6 68.8 406.1 68.8 402.3 69.6 400.5 71.1 401.6 71.8M573.8 171.9 575.3 171.5 579.8 171.9 579.8 176.7 577.2 181.6 577.6 184.9 578.7 187.9 580.9 187.9 584.6 189.4 586.9 192.3 585.7 193.1 582.8 191.6 580.9 190.5 578.3 189.4 575.3 189.7 573.8 187.5 574.9 186.4 573.8 185.6 571.6 183.8 571.2 180.4 573.1 180.1 573.8 171.9M572.7 190.5 576.1 190.9 577.2 193.8 575.7 195.3 573.8 194.2 572.7 190.5M579.0 196.4 582.4 197.9 580.9 201.3 578.7 201.6 579.0 196.4M587.6 194.2 592.1 195.3 592.4 199.0 590.2 199.8 587.6 197.5 587.6 194.2M582.8 200.2 584.6 201.6 583.5 205.4 580.9 205.0 582.8 200.2M587.6 197.9 590.2 199.0 590.2 203.1 588.0 202.8 587.6 197.9M586.1 199.0 586.9 201.6 585.0 204.2 586.1 199.0M569.0 198.7 570.5 201.6 566.0 206.1 561.6 209.5 563.4 206.5 569.0 198.7M422.4 204.2 423.9 204.2 426.5 209.1 422.1 210.9 422.4 204.2"/></g>
<rect x="385.6" y="17.5" width="297.6" height="186.0" fill="none" stroke="#222" stroke-width="1"/>
<path stroke="#222" stroke-width="1" d="M382.6 203.5h3.0M382.6 184.9h3.0M379.6 166.3h6.0M382.6 147.7h3.0M382.6 129.1h3.0M382.6 110.5h3.0M379.6 91.9h6.0M382.6 73.3h3.0M382.6 54.7h3.0M382.6 36.1h3.0M379.6 17.5h6.0M385.6 203.5v3.2M422.8 203.5v3.2M460.0 203.5v6.8M497.2 203.5v3.2M534.4 203.5v3.2M571.6 203.5v6.8M608.8 203.5v3.2M646.0 203.5v3.2M683.2 203.5v6.8"/>
<g clip-path="url(#cpc)"><rect x="33.3" y="251.7" width="297.6" height="186.0" fill="#024d9a"/><path fill="#0558a9" fill-rule="evenodd" d="M34.3 251.7 330.9 251.7 330.9 364.8 318.0 363.9 291.1 361.1 264.2 360.2 231.4 358.5 178.0 355.1 158.7 354.2 135.8 354.1 115.9 354.8 103.0 356.1 92.6 358.1 85.8 360.1 81.4 362.1 79.1 364.1 78.3 366.1 78.3 368.1 78.9 370.1 83.3 380.0 84.0 385.0 83.5 390.0 80.7 400.9 80.0 405.9 79.8 411.8 80.3 428.7 79.6 433.7 78.4 437.7 33.3 437.7 33.3 251.7Z"/><path fill="#0068b4" fill-rule="evenodd" d="M34.3 251.7 330.9 251.7 330.9 359.0 318.0 357.7 285.1 353.2 262.2 350.7 254.3 350.3 234.4 350.4 219.4 350.0 186.6 348.4 163.7 346.5 151.7 346.1 126.9 346.0 107.9 346.8 80.7 349.2 48.2 352.7 33.3 353.4 33.3 251.7ZM34.3 373.0 40.3 373.4 46.2 374.5 51.2 376.0 55.3 378.0 58.2 380.2 60.2 383.0 60.4 386.0 59.3 389.0 57.8 391.0 55.2 393.1 52.2 394.7 49.2 395.7 46.2 396.3 42.3 396.7 38.3 396.7 33.3 396.1 33.3 373.0Z"/><path fill="#0088c8" fill-rule="evenodd" d="M34.3 251.7 330.9 251.7 330.9 354.7 317.0 352.9 281.1 347.3 267.2 345.7 256.3 345.1 233.4 345.1 218.4 344.7 185.6 342.9 164.7 341.0 153.7 340.4 128.9 339.9 112.9 340.1 50.2 344.1 33.3 344.7 33.3 251.7Z"/><path fill="#00aadd" fill-rule="evenodd" d="M34.3 251.7 330.9 251.7 330.9 350.7 290.4 344.2 273.2 342.1 259.2 341.3 234.4 341.0 218.4 340.4 185.6 338.5 164.7 336.5 155.7 336.0 127.9 335.1 113.9 335.1 50.2 338.3 33.3 338.5 33.3 251.7Z"/><path fill="#4bc2e9" fill-rule="evenodd" d="M34.3 251.7 330.9 251.7 330.9 346.5 301.0 341.6 277.2 338.7 266.2 338.1 221.4 336.8 186.6 334.6 157.7 332.2 127.9 331.2 113.9 331.1 51.2 333.7 33.3 333.8 33.3 251.7Z"/><path fill="#45bfe7" fill-rule="evenodd" d="M34.3 251.7 330.9 251.7 330.9 341.6 310.0 338.3 281.1 335.4 226.4 333.5 157.7 328.9 127.9 327.9 113.9 327.8 51.2 329.9 33.3 329.9 33.3 251.7Z"/><path fill="#5ecbef" fill-rule="evenodd" d="M34.3 251.7 330.9 251.7 330.9 334.7 317.0 333.4 284.1 331.5 245.3 330.9 219.4 329.6 164.7 326.2 130.8 325.1 107.9 325.0 51.2 326.7 33.3 326.7 33.3 251.7Z"/><path fill="#78d5f5" fill-rule="evenodd" d="M38.3 251.7 330.9 251.7 330.9 323.2 302.0 325.7 256.3 327.4 223.4 326.3 164.7 323.3 125.9 322.4 106.0 322.4 51.2 323.9 33.3 323.9 33.3 261.4 37.1 259.7 39.3 257.7 39.8 256.7 39.9 254.7Z"/><path fill="#9fdff8" fill-rule="evenodd" d="M50.2 251.7 330.9 251.7 330.9 307.5 325.9 306.7 320.0 305.2 302.0 299.0 299.0 298.5 296.1 298.6 293.1 299.6 289.1 302.6 286.0 306.4 282.8 312.4 281.4 314.4 279.1 316.3 277.4 317.3 272.3 319.3 266.2 320.8 259.2 321.9 252.3 322.5 222.4 322.5 164.7 320.7 119.9 319.9 99.0 320.1 49.2 321.3 33.3 321.3 33.3 269.0 43.3 264.5 46.3 262.6 49.2 260.3 51.2 257.7 51.7 255.7 51.3 253.7 49.4 251.7Z"/><path fill="#c0ebf9" fill-rule="evenodd" d="M63.2 251.7 234.3 251.7 238.3 253.0 243.3 254.0 258.2 255.4 267.2 256.8 275.0 258.7 279.8 260.7 281.1 261.7 282.7 263.6 284.2 267.6 285.2 274.6 285.0 280.5 283.6 286.5 281.1 291.5 277.2 296.9 272.2 301.8 262.2 309.0 255.3 313.1 249.3 315.4 241.3 317.0 230.4 318.1 217.4 318.5 113.9 317.5 49.2 318.8 33.3 318.7 33.3 274.9 37.3 272.6 49.7 266.6 56.0 262.6 58.3 260.7 60.9 257.7 62.4 254.7 62.6 252.7 62.3 251.7ZM285.1 251.7 330.9 251.7 330.9 297.3 323.9 296.1 317.0 293.5 310.0 289.6 305.2 285.5 302.6 282.5 300.6 279.6 295.1 268.1 293.1 264.7 287.1 257.4 285.4 253.7 284.8 251.7Z"/><path fill="#fff5d2" fill-rule="evenodd" d="M76.1 251.7 225.5 251.7 231.4 254.6 236.3 256.7 241.3 258.2 256.3 261.9 260.8 263.6 264.5 265.6 268.2 268.7 269.8 270.6 271.2 273.2 272.0 275.6 272.6 278.6 272.4 283.5 271.2 287.5 268.9 291.5 265.2 295.5 259.9 299.4 249.3 305.9 242.3 309.5 235.3 311.8 227.4 313.4 216.4 314.4 200.5 314.9 156.7 315.3 103.0 315.2 50.2 316.2 33.3 316.1 33.3 280.3 36.3 278.0 39.3 276.2 55.2 268.7 62.2 264.6 69.8 258.7 72.8 255.7ZM298.1 251.7 330.9 251.7 330.9 288.9 325.9 288.2 321.3 286.5 317.0 283.9 313.4 280.5 311.0 277.5 308.7 273.6 302.0 258.3 299.7 254.7 297.1 251.7Z"/><path fill="#ffe99e" fill-rule="evenodd" d="M89.0 251.8 216.0 251.7 232.4 260.1 248.2 266.6 254.3 269.8 257.6 272.6 260.2 276.4 261.2 279.6 261.2 283.5 259.9 287.5 256.8 291.5 251.9 295.5 245.3 299.7 238.3 303.5 231.4 306.3 224.4 308.3 217.4 309.5 202.5 310.8 160.7 312.4 93.0 312.7 48.2 313.5 33.3 313.3 33.3 285.6 37.3 282.0 41.3 279.4 46.2 277.0 61.1 270.6 71.9 264.6 82.5 257.7 86.1 254.7ZM309.0 251.7 330.9 251.7 330.9 280.6 326.9 280.0 323.9 278.8 320.7 276.6 317.9 273.6 315.4 269.6 313.5 265.6 308.5 251.7Z"/><path fill="#fed672" fill-rule="evenodd" d="M101.0 252.6 101.8 251.7 182.1 251.7 188.6 253.1 200.5 253.8 205.5 254.5 212.5 256.6 218.4 259.3 239.9 271.6 243.9 274.6 246.5 277.6 247.8 280.5 247.9 283.5 247.3 285.5 246.3 287.3 243.4 290.5 238.3 294.3 232.9 297.5 226.4 300.4 220.2 302.4 212.5 304.2 204.5 305.4 171.6 308.5 154.7 309.4 129.8 309.8 88.0 309.8 51.2 310.6 41.3 310.4 33.3 309.8 33.3 291.2 38.3 286.1 41.9 283.5 46.2 281.2 67.9 272.6 84.6 264.6 89.7 261.6 94.0 258.7ZM323.9 252.2 324.9 251.7 330.9 251.7 330.9 270.3 327.9 269.7 325.9 268.5 323.9 266.4 322.0 262.6 321.2 259.7 321.2 256.7 321.9 254.4Z"/><path fill="#ffc040" fill-rule="evenodd" d="M118.9 252.4 119.6 251.7 171.6 251.7 177.6 256.3 183.6 259.4 189.6 261.2 206.4 264.6 212.2 266.6 216.4 268.6 221.1 271.6 225.5 275.6 227.0 277.6 227.9 279.6 228.1 282.5 226.7 285.5 223.5 288.5 218.4 291.5 213.5 293.5 203.3 296.5 172.6 303.2 164.7 304.5 153.7 305.5 132.8 306.2 87.0 306.4 56.2 307.1 45.2 306.8 38.3 305.8 35.3 304.6 33.9 303.4 33.3 301.4 33.8 299.4 35.2 296.5 38.2 292.5 41.2 289.5 43.8 287.5 47.2 285.5 52.2 283.3 75.1 275.8 91.0 269.4 98.5 265.6 110.2 258.7 115.9 255.0Z"/><path fill="#ffa622" fill-rule="evenodd" d="M141.8 251.7 160.3 251.7 172.9 264.6 176.0 268.6 177.8 271.6 178.9 274.6 179.1 276.6 178.7 279.6 177.3 282.5 174.6 286.5 170.5 291.5 168.2 293.5 164.7 295.7 159.7 297.5 150.7 299.3 138.8 300.5 123.9 301.2 85.1 301.2 56.2 301.9 51.2 301.5 48.2 300.7 46.2 299.7 45.2 298.4 45.1 296.5 46.8 293.5 50.6 290.5 54.8 288.5 61.2 286.6 73.1 283.9 84.1 280.9 108.9 272.6 125.9 268.5 131.8 266.2 135.9 263.6 138.0 261.6 139.5 259.7 141.4 255.7Z"/><path stroke="#000" stroke-width="2.7" stroke-linecap="round" d="M44.7 253.6h0M124.7 253.6h0M140.7 253.6h0M156.7 253.6h0M36.5 261.6h0M100.5 261.6h0M116.5 261.6h0M132.5 261.6h0M148.5 261.6h0M164.5 261.6h0M76.7 269.6h0M92.7 269.6h0M108.7 269.6h0M124.7 269.6h0M140.7 269.6h0M156.7 269.6h0M172.7 269.6h0M188.7 269.6h0M68.5 277.6h0M84.5 277.6h0M100.5 277.6h0M116.5 277.6h0M132.5 277.6h0M148.5 277.6h0M164.5 277.6h0M180.5 277.6h0M196.5 277.6h0M212.5 277.6h0M228.5 277.6h0M44.7 285.6h0M60.7 285.6h0M76.7 285.6h0M92.7 285.6h0M108.7 285.6h0M124.7 285.6h0M140.7 285.6h0M156.7 285.6h0M172.7 285.6h0M188.7 285.6h0M204.7 285.6h0M220.7 285.6h0M36.5 293.6h0M52.5 293.6h0M68.5 293.6h0M84.5 293.6h0M100.5 293.6h0M116.5 293.6h0M132.5 293.6h0M148.5 293.6h0M164.5 293.6h0M180.5 293.6h0M196.5 293.6h0M212.5 293.6h0M44.7 301.6h0M60.7 301.6h0M76.7 301.6h0M92.7 301.6h0M108.7 301.6h0M124.7 301.6h0M140.7 301.6h0M36.5 325.6h0M52.5 325.6h0M68.5 325.6h0M84.5 325.6h0M100.5 325.6h0M116.5 325.6h0M132.5 325.6h0M148.5 325.6h0M164.5 325.6h0M180.5 325.6h0M196.5 325.6h0M44.7 333.6h0M60.7 333.6h0M76.7 333.6h0M92.7 333.6h0M108.7 333.6h0M124.7 333.6h0M140.7 333.6h0M156.7 333.6h0M172.7 333.6h0M188.7 333.6h0M204.7 333.6h0M220.7 333.6h0M268.7 333.6h0M284.7 333.6h0M300.7 333.6h0M316.7 333.6h0M36.5 341.6h0M52.5 341.6h0M68.5 341.6h0M84.5 341.6h0M100.5 341.6h0M116.5 341.6h0M132.5 341.6h0M148.5 341.6h0M164.5 341.6h0M180.5 341.6h0M196.5 341.6h0M212.5 341.6h0M228.5 341.6h0M244.5 341.6h0M260.5 341.6h0M276.5 341.6h0M292.5 341.6h0M308.5 341.6h0M324.5 341.6h0M44.7 349.6h0M60.7 349.6h0M76.7 349.6h0M92.7 349.6h0M108.7 349.6h0M124.7 349.6h0M140.7 349.6h0M156.7 349.6h0M172.7 349.6h0M188.7 349.6h0M204.7 349.6h0M220.7 349.6h0M236.7 349.6h0M252.7 349.6h0M268.7 349.6h0M284.7 349.6h0M300.7 349.6h0M316.7 349.6h0M36.5 357.6h0M52.5 357.6h0M68.5 357.6h0M84.5 357.6h0M100.5 357.6h0M116.5 357.6h0M132.5 357.6h0M148.5 357.6h0M164.5 357.6h0M180.5 357.6h0M196.5 357.6h0M212.5 357.6h0M228.5 357.6h0M244.5 357.6h0M260.5 357.6h0M276.5 357.6h0M292.5 357.6h0M308.5 357.6h0M324.5 357.6h0M44.7 365.6h0M60.7 365.6h0M76.7 365.6h0M92.7 365.6h0M108.7 365.6h0M124.7 365.6h0M140.7 365.6h0M156.7 365.6h0M172.7 365.6h0M188.7 365.6h0M204.7 365.6h0M220.7 365.6h0M236.7 365.6h0M252.7 365.6h0M268.7 365.6h0M284.7 365.6h0M300.7 365.6h0M316.7 365.6h0M36.5 373.6h0M52.5 373.6h0M68.5 373.6h0M84.5 373.6h0M100.5 373.6h0M116.5 373.6h0M132.5 373.6h0M148.5 373.6h0M164.5 373.6h0M180.5 373.6h0M196.5 373.6h0M212.5 373.6h0M228.5 373.6h0M244.5 373.6h0M260.5 373.6h0M276.5 373.6h0M292.5 373.6h0M308.5 373.6h0M324.5 373.6h0M44.7 381.6h0M60.7 381.6h0M76.7 381.6h0M92.7 381.6h0M108.7 381.6h0M124.7 381.6h0M140.7 381.6h0M156.7 381.6h0M172.7 381.6h0M188.7 381.6h0M204.7 381.6h0M220.7 381.6h0M236.7 381.6h0M252.7 381.6h0M268.7 381.6h0M284.7 381.6h0M300.7 381.6h0M316.7 381.6h0M36.5 389.6h0M52.5 389.6h0M68.5 389.6h0M84.5 389.6h0M100.5 389.6h0M116.5 389.6h0M132.5 389.6h0M148.5 389.6h0M164.5 389.6h0M180.5 389.6h0M196.5 389.6h0M212.5 389.6h0M228.5 389.6h0M244.5 389.6h0M260.5 389.6h0M276.5 389.6h0M292.5 389.6h0M308.5 389.6h0M324.5 389.6h0M44.7 397.6h0M60.7 397.6h0M76.7 397.6h0M92.7 397.6h0M108.7 397.6h0M124.7 397.6h0M140.7 397.6h0M156.7 397.6h0M172.7 397.6h0M188.7 397.6h0M204.7 397.6h0M220.7 397.6h0M236.7 397.6h0M252.7 397.6h0M268.7 397.6h0M284.7 397.6h0M300.7 397.6h0M316.7 397.6h0M36.5 405.6h0M52.5 405.6h0M68.5 405.6h0M84.5 405.6h0M100.5 405.6h0M116.5 405.6h0M132.5 405.6h0M148.5 405.6h0M164.5 405.6h0M180.5 405.6h0M196.5 405.6h0M212.5 405.6h0M228.5 405.6h0M244.5 405.6h0M260.5 405.6h0M276.5 405.6h0M292.5 405.6h0M308.5 405.6h0M324.5 405.6h0M44.7 413.6h0M60.7 413.6h0M76.7 413.6h0M92.7 413.6h0M108.7 413.6h0M124.7 413.6h0M140.7 413.6h0M156.7 413.6h0M172.7 413.6h0M188.7 413.6h0M204.7 413.6h0M220.7 413.6h0M236.7 413.6h0M252.7 413.6h0M268.7 413.6h0M284.7 413.6h0M300.7 413.6h0M316.7 413.6h0M36.5 421.6h0M52.5 421.6h0M68.5 421.6h0M84.5 421.6h0M100.5 421.6h0M116.5 421.6h0M132.5 421.6h0M148.5 421.6h0M164.5 421.6h0M180.5 421.6h0M196.5 421.6h0M212.5 421.6h0M228.5 421.6h0M244.5 421.6h0M260.5 421.6h0M276.5 421.6h0M292.5 421.6h0M308.5 421.6h0M324.5 421.6h0M44.7 429.6h0M60.7 429.6h0M76.7 429.6h0M92.7 429.6h0M108.7 429.6h0M124.7 429.6h0M140.7 429.6h0M156.7 429.6h0M172.7 429.6h0M188.7 429.6h0M204.7 429.6h0M220.7 429.6h0M236.7 429.6h0M252.7 429.6h0M268.7 429.6h0M284.7 429.6h0M300.7 429.6h0M316.7 429.6h0M36.5 437.6h0M52.5 437.6h0M68.5 437.6h0M84.5 437.6h0M100.5 437.6h0M116.5 437.6h0M132.5 437.6h0M148.5 437.6h0M164.5 437.6h0M180.5 437.6h0M196.5 437.6h0M212.5 437.6h0M228.5 437.6h0M244.5 437.6h0M260.5 437.6h0M276.5 437.6h0M292.5 437.6h0M308.5 437.6h0M324.5 437.6h0"/><path fill="none" stroke="#000" stroke-width="0.8" stroke-linejoin="round" d="M247.6 377.8 249.1 375.9 250.2 375.2 248.7 376.7 247.6 377.8M253.5 370.4 255.0 368.9 254.3 370.0 253.5 370.4M234.6 384.5 235.3 383.8 234.9 384.5M18.4 381.9 27.7 386.4 29.6 390.8 33.3 395.3 37.0 397.5 41.5 396.0 43.0 392.7 43.7 396.8 44.1 400.5 43.7 404.2 44.5 407.9 45.6 411.7 46.7 415.4 48.2 419.1 49.7 422.8 51.2 426.5 52.6 430.3 54.5 434.0 56.0 437.0 57.1 441.4M67.9 441.4 70.1 436.6 70.1 432.1 71.2 426.5 71.6 419.1 74.2 416.1 79.1 413.1 82.8 409.4 87.2 405.3 91.0 402.0 94.7 399.8 96.5 396.0 100.3 394.2 104.0 393.8 107.7 393.1 109.9 391.2 113.3 390.8 114.8 394.5 115.9 396.8 117.4 398.6 120.7 402.4 123.7 406.1 124.4 411.7 123.7 415.4 127.0 416.1 130.8 413.1 133.7 412.4 136.0 415.4 136.7 419.1 138.2 424.7 139.7 430.3 139.7 435.8 139.3 441.4M141.9 441.4 142.3 435.8 143.0 432.1 144.5 428.4 144.9 425.1 146.8 424.7 148.2 427.3 150.5 428.0 153.5 429.5 155.3 431.7 156.8 434.4 159.8 435.8 161.6 436.6 162.8 441.4M169.1 441.4 170.2 436.2 172.8 435.8 176.5 434.0 179.1 431.0 179.5 427.3 179.1 423.6 178.0 418.4 175.8 415.4 172.1 412.4 169.1 408.7 166.5 405.0 166.8 402.0 169.1 399.4 170.2 397.5 172.8 395.3 175.4 394.5 178.4 394.9 181.4 394.9 182.1 397.5 182.8 399.4 184.0 399.0 183.6 396.0 185.8 394.9 189.5 393.8 193.3 392.3 195.5 390.8 197.7 391.9 200.7 390.5 204.4 389.7 207.4 388.2 210.0 386.4 212.6 383.8 214.8 381.9 217.4 379.7 217.8 376.3 220.0 374.5 222.3 370.7 224.9 368.1 226.0 365.2 223.0 362.2 226.4 360.0 226.0 357.7 223.0 355.1 222.3 353.3 220.4 349.2 217.4 346.6 216.7 344.7 219.7 341.4 221.9 339.5 224.9 338.0 228.6 336.5 225.3 335.4 221.9 334.3 218.6 336.1 215.6 336.5 214.8 333.9 211.9 332.4 210.4 330.6 211.1 329.1 213.7 329.1 216.7 328.0 219.3 325.7 222.3 324.2 224.9 322.8 227.5 324.2 226.0 326.5 224.9 328.3 223.8 330.6 225.6 329.8 227.9 328.3 230.5 327.2 234.9 326.5 237.2 327.6 239.0 328.0 237.9 331.3 239.4 334.7 242.0 334.7 243.9 336.5 243.5 339.1 243.5 342.8 242.7 346.2 245.3 346.6 248.3 345.4 251.3 345.1 253.9 344.0 254.6 341.7 254.3 339.1 253.9 336.1 251.3 332.8 249.4 330.2 247.2 328.7 247.6 326.8 250.2 325.7 252.8 323.9 255.4 322.8 255.8 320.5 258.0 317.9 259.5 316.4 261.3 314.9 263.9 314.2 265.8 315.3 268.4 315.7 271.4 314.6 275.1 312.7 278.8 309.7 282.5 307.1 285.5 304.5 287.7 301.5 290.0 298.9 293.0 296.3 294.8 293.4 295.6 289.6 295.9 286.7 296.7 283.3 298.2 280.7 298.9 278.1 297.4 276.6 295.2 275.5 292.6 273.6 289.2 273.3 285.1 275.5 282.5 273.3 281.4 271.8 276.2 271.0 277.0 269.6 280.7 267.3 284.4 265.5 288.1 263.2 291.8 260.6 296.3 258.0 300.4 256.2 304.5 254.3 308.6 253.9 314.2 253.9 319.7 254.3 325.3 254.3 329.0 252.8 334.6 253.2M223.0 381.5 225.3 381.2 226.4 382.6 225.3 386.4 224.5 389.3 222.6 393.1 221.5 391.6 220.0 389.3 219.7 386.7 220.8 384.1 222.3 382.3 223.0 381.5M176.9 403.5 177.3 406.1 180.2 407.2 182.5 406.5 184.3 403.5 185.8 401.6 184.7 400.1 182.5 400.5 180.2 400.9 178.4 402.0 176.9 403.5M300.0 306.0 303.0 308.2 306.0 310.1 309.7 311.6 313.4 310.1 312.7 312.7 315.3 313.5 313.8 314.2 309.7 315.3 306.0 318.7 303.0 317.9 299.3 316.4 297.0 316.8 298.2 319.4 295.2 320.9 293.7 320.5 294.1 317.9 293.0 316.4 294.8 314.2 297.8 314.2 298.9 312.0 300.0 309.7 300.0 306.0M298.9 320.9 299.3 324.2 300.8 327.6 299.7 330.2 297.8 332.1 297.0 334.3 297.4 337.6 295.9 339.9 296.7 342.1 294.8 344.0 293.3 345.1 293.0 343.2 292.2 344.0 290.4 344.3 289.2 346.2 287.4 345.8 284.4 345.8 282.2 347.3 281.1 348.8 278.1 350.3 275.5 347.3 276.6 345.8 272.5 345.8 268.8 346.9 265.4 347.7 262.5 348.4 259.8 348.4 260.2 346.9 262.8 345.8 266.5 343.2 269.1 342.8 273.2 342.5 277.0 342.5 279.2 341.0 281.4 338.0 281.8 335.8 283.7 335.4 282.5 338.0 284.8 337.6 288.1 335.8 290.4 333.5 292.6 330.6 293.7 327.6 293.0 326.1 293.7 323.5 294.8 321.6 297.0 321.6 298.2 321.6 298.9 320.9M259.8 348.8 262.1 349.9 262.8 352.5 261.7 358.1 259.1 359.6 257.2 358.5 257.6 355.5 255.8 353.3 255.0 351.0 258.0 349.9 259.8 348.8M263.9 350.7 265.8 352.5 267.7 352.9 270.3 350.3 272.5 351.0 274.0 349.2 273.2 347.7 269.5 347.3 267.7 348.4 265.8 349.2 263.9 350.7M301.1 303.8 300.4 301.5 301.1 298.2 301.9 294.5 301.1 290.8 301.5 287.0 301.9 283.3 300.0 279.6 300.4 275.9 303.0 272.9 304.1 272.5 305.6 276.6 306.0 280.7 305.6 285.2 307.1 288.2 310.1 291.9 305.6 291.5 303.4 296.3 304.9 298.9 306.3 301.9 303.4 301.2 301.1 303.8M159.0 282.9 161.6 282.2 165.4 280.3 169.1 278.1 172.8 276.3 176.5 274.0 179.5 271.0 181.0 268.1 179.9 267.3 178.4 269.6 175.4 272.5 170.9 275.9 167.2 278.5 163.5 281.1 160.5 282.2 159.0 282.9M48.2 306.4 46.7 305.3 47.4 303.8 50.0 302.3 53.8 301.5 59.3 301.9 67.5 301.5 66.8 302.7 59.3 303.0 53.8 303.0 50.0 303.8 48.2 305.3 49.3 306.0M221.5 406.1 223.0 405.7 227.5 406.1 227.5 410.9 224.9 415.8 225.3 419.1 226.4 422.1 228.6 422.1 232.3 423.6 234.6 426.5 233.4 427.3 230.5 425.8 228.6 424.7 226.0 423.6 223.0 423.9 221.5 421.7 222.6 420.6 221.5 419.8 219.3 418.0 218.9 414.6 220.8 414.3 221.5 406.1M220.4 424.7 223.8 425.1 224.9 428.0 223.4 429.5 221.5 428.4 220.4 424.7M226.7 430.6 230.1 432.1 228.6 435.5 226.4 435.8 226.7 430.6M235.3 428.4 239.8 429.5 240.1 433.2 237.9 434.0 235.3 431.7 235.3 428.4M230.5 434.4 232.3 435.8 231.2 439.6 228.6 439.2 230.5 434.4M235.3 432.1 237.9 433.2 237.9 437.3 235.7 437.0 235.3 432.1M233.8 433.2 234.6 435.8 232.7 438.4 233.8 433.2M216.7 432.9 218.2 435.8 213.7 440.3 209.3 443.7 211.1 440.7 216.7 432.9M70.1 438.4 71.6 438.4 74.2 443.3 69.8 445.1 70.1 438.4"/></g>
<rect x="33.3" y="251.7" width="297.6" height="186.0" fill="none" stroke="#222" stroke-width="1"/>
<path stroke="#222" stroke-width="1" d="M30.3 437.7h3.0M30.3 419.1h3.0M27.3 400.5h6.0M30.3 381.9h3.0M30.3 363.3h3.0M30.3 344.7h3.0M27.3 326.1h6.0M30.3 307.5h3.0M30.3 288.9h3.0M30.3 270.3h3.0M27.3 251.7h6.0M33.3 437.7v3.2M70.5 437.7v3.2M107.7 437.7v6.8M144.9 437.7v3.2M182.1 437.7v3.2M219.3 437.7v6.8M256.5 437.7v3.2M293.7 437.7v3.2M330.9 437.7v6.8"/>
<g clip-path="url(#cpd)"><rect x="385.5" y="251.7" width="297.6" height="186.0" fill="#024d9a"/><path fill="#0558a9" fill-rule="evenodd" d="M386.5 251.7 683.1 251.7 683.1 437.7 385.5 437.7 385.5 251.7Z"/><path fill="#0068b4" fill-rule="evenodd" d="M386.5 251.7 683.1 251.7 683.1 437.7 385.5 437.7 385.5 251.7Z"/><path fill="#0088c8" fill-rule="evenodd" d="M386.5 251.7 683.1 251.7 683.1 437.7 385.5 437.7 385.5 251.7Z"/><path fill="#00aadd" fill-rule="evenodd" d="M386.5 251.7 683.1 251.7 683.1 437.7 385.5 437.7 385.5 251.7Z"/><path fill="#4bc2e9" fill-rule="evenodd" d="M386.5 251.7 683.1 251.7 683.1 437.7 385.5 437.7 385.5 251.7Z"/><path fill="#45bfe7" fill-rule="evenodd" d="M386.5 251.7 683.1 251.7 683.1 437.7 385.5 437.7 385.5 251.7Z"/><path fill="#5ecbef" fill-rule="evenodd" d="M386.5 251.7 683.1 251.7 683.1 437.7 385.5 437.7 385.5 251.7Z"/><path fill="#78d5f5" fill-rule="evenodd" d="M386.5 251.7 683.1 251.7 683.1 437.7 385.5 437.7 385.5 251.7Z"/><path fill="#9fdff8" fill-rule="evenodd" d="M386.5 251.7 683.1 251.7 683.1 437.7 385.5 437.7 385.5 251.7Z"/><path fill="#c0ebf9" fill-rule="evenodd" d="M386.5 251.7 683.1 251.7 683.1 437.7 385.5 437.7 385.5 251.7Z"/><path fill="#fff5d2" fill-rule="evenodd" d="M386.5 251.7 394.9 251.7 398.4 254.0 403.5 255.7 411.4 256.9 420.3 257.4 430.3 256.9 443.2 255.4 453.2 253.8 462.2 251.7 683.1 251.7 683.1 437.7 385.5 437.7 385.5 251.7Z"/><path fill="#ffe99e" fill-rule="evenodd" d="M478.1 252.7 483.4 251.7 683.1 251.7 683.1 437.7 385.5 437.7 385.5 264.3 402.4 264.7 413.4 264.6 424.3 264.1 435.3 262.9 446.2 261.4 454.2 259.8 460.1 258.2 471.1 254.5Z"/><path fill="#fed672" fill-rule="evenodd" d="M504.9 252.6 509.4 251.7 683.1 251.7 683.1 437.7 385.5 437.7 385.5 273.7 404.4 272.6 419.3 271.3 432.3 269.8 446.2 267.6 458.2 264.8 472.1 259.4 478.1 257.5 484.0 256.3 497.0 254.3Z"/><path fill="#ffc040" fill-rule="evenodd" d="M534.8 252.6 536.8 251.7 683.1 251.7 683.1 437.7 385.5 437.7 385.5 281.3 398.4 280.6 412.4 279.1 428.3 276.9 444.2 274.1 452.2 272.5 459.2 270.5 475.1 264.0 481.1 262.1 499.0 259.2 514.9 255.9 529.8 254.0Z"/><path fill="#ffa622" fill-rule="evenodd" d="M545.7 252.1 546.0 251.7 683.1 251.7 683.1 437.7 385.5 437.7 385.5 288.9 399.4 287.9 413.4 286.2 430.3 283.2 449.2 279.3 462.1 275.8 478.1 269.1 485.0 267.0 515.9 261.2 531.8 259.1 537.8 257.8 540.8 256.7 542.8 255.6 544.7 253.7Z"/><path fill="#ffa21e" fill-rule="evenodd" d="M555.7 251.7 683.1 251.7 683.1 437.7 385.5 437.7 385.5 297.6 416.4 293.1 443.2 287.1 466.1 281.1 472.1 278.9 484.0 273.7 493.0 271.1 520.9 266.3 540.8 264.3 545.7 263.5 549.7 261.8 552.2 259.7 553.5 257.7 554.3 255.7 554.9 251.7Z"/><path fill="#ff8c1a" fill-rule="evenodd" d="M566.6 252.5 567.1 251.7 683.1 251.7 683.1 437.7 385.5 437.7 385.5 404.1 402.4 396.6 408.4 394.7 422.3 390.9 428.3 388.6 432.3 386.1 434.6 384.0 436.4 381.0 436.8 378.0 436.3 375.0 435.0 372.1 433.3 369.1 431.0 366.1 428.3 363.4 426.3 361.9 423.3 360.4 421.3 360.0 418.3 360.0 414.4 361.1 400.4 367.3 393.5 369.9 388.5 371.2 385.5 371.3 385.5 311.7 391.5 308.5 397.3 306.4 419.3 301.0 448.5 292.5 471.1 286.8 477.1 284.5 489.0 278.8 496.0 276.6 503.9 275.2 527.8 272.2 534.8 271.7 548.7 271.9 551.7 271.6 554.7 270.8 556.7 269.9 558.6 268.6 561.1 265.6 562.7 262.6ZM604.4 322.3 600.5 324.2 598.4 326.3 597.9 327.3 597.7 329.3 598.5 331.2 599.4 332.3 600.8 333.3 602.9 334.3 607.5 335.0 611.4 334.2 614.5 332.3 615.9 330.3 616.4 328.3 616.2 326.3 614.9 324.3 613.4 323.1 610.4 322.0 607.5 321.8ZM461.6 370.1 459.1 371.1 456.4 373.0 454.7 375.0 453.7 377.0 453.3 379.0 453.7 381.0 455.0 383.0 457.3 385.0 460.1 386.4 463.1 387.4 467.1 388.1 471.1 388.3 475.1 387.9 478.0 387.0 480.1 385.8 481.8 384.0 482.9 381.0 482.4 378.0 480.5 375.0 478.1 373.0 474.1 371.1 470.1 370.0 465.1 369.5ZM569.6 378.0 566.6 380.4 563.0 386.0 560.0 392.9 558.6 398.9 558.6 402.9 559.5 406.9 561.7 411.6 564.4 415.8 567.6 419.4 570.6 421.8 573.6 423.5 577.6 424.8 583.6 425.8 597.5 427.1 602.5 426.8 605.5 425.6 607.3 423.8 608.3 421.8 608.6 419.8 608.6 416.8 608.1 413.8 607.2 410.8 605.5 407.3 603.5 404.3 599.3 399.9 590.5 393.8 587.1 391.0 584.2 388.0 576.6 379.2 574.6 377.9 572.6 377.4 570.6 377.6ZM645.0 400.9 643.3 402.6 642.3 404.6 641.7 407.9 641.8 410.8 642.3 413.8 643.6 416.8 645.3 418.7 647.3 419.4 649.3 418.7 650.3 417.8 651.4 415.8 652.5 411.8 652.5 407.9 651.9 404.9 650.2 401.9 648.9 400.9 647.3 400.4Z"/><path fill="#ff6a1e" fill-rule="evenodd" d="M581.6 252.1 582.0 251.7 683.1 251.7 683.1 350.9 682.1 351.4 677.1 353.1 673.1 353.9 669.2 354.2 664.2 353.9 659.2 353.1 653.2 351.5 648.3 349.6 644.3 347.4 640.6 344.2 638.3 340.2 637.3 336.2 635.7 324.3 634.9 321.3 633.4 318.3 631.3 316.0 628.4 314.0 624.4 312.4 619.4 311.4 610.4 310.9 601.5 311.6 594.5 313.2 577.6 317.9 573.6 320.0 570.6 322.7 568.6 325.4 563.7 334.3 561.7 336.7 558.7 338.9 553.7 341.1 542.5 344.2 532.8 347.3 527.8 348.3 522.9 348.8 515.9 348.6 508.9 347.7 502.0 346.2 495.0 344.0 480.1 337.8 459.9 328.3 454.2 326.5 443.2 323.8 438.3 322.0 433.7 319.3 432.3 317.9 431.4 316.4 431.0 315.4 431.1 313.4 432.5 310.4 435.7 307.4 442.4 303.4 449.2 300.4 455.2 298.3 472.1 294.3 477.1 292.9 482.0 290.7 493.0 284.9 496.9 283.5 500.0 282.8 504.9 282.2 516.9 281.5 531.8 280.0 536.8 279.9 542.8 280.3 551.7 281.3 557.7 282.5 563.1 284.5 570.6 288.6 573.6 289.2 575.6 288.9 577.6 287.6 578.4 286.5 579.0 283.5 578.6 280.5 575.7 270.6 575.4 266.6 575.6 263.6 576.3 260.7 577.5 257.7 579.4 254.7Z"/><path fill="#ff4a24" fill-rule="evenodd" d="M599.5 251.7 683.1 251.7 683.1 276.4 676.1 277.8 669.2 279.8 644.3 289.5 635.3 292.3 629.4 293.4 624.4 293.9 619.4 293.8 615.4 293.2 611.4 291.4 609.4 289.7 607.6 287.5 603.5 280.7 599.7 272.6 597.8 266.6 597.1 260.7 597.8 255.7ZM503.9 292.5 518.9 293.2 533.8 292.1 538.8 292.1 544.8 292.9 549.0 294.5 552.0 296.5 554.9 299.4 557.6 303.4 559.4 307.4 559.6 310.4 559.2 313.4 557.8 318.3 556.0 322.3 554.7 324.3 552.7 326.2 550.7 327.4 548.7 327.9 543.8 328.0 535.8 326.3 531.8 326.1 527.8 326.9 516.9 330.2 513.9 330.6 509.9 330.6 502.9 329.7 495.3 327.3 488.7 324.3 475.5 317.3 470.7 314.4 467.6 311.4 467.1 309.4 467.5 308.4 468.5 307.4 472.2 305.4 484.0 300.7 496.0 294.3 500.0 293.0Z"/><path fill="#fa2226" fill-rule="evenodd" d="M618.4 251.7 640.4 251.7 637.3 255.1 634.3 257.2 630.3 258.8 627.4 259.1 624.4 258.6 621.4 256.9 619.4 254.8 618.4 253.3 617.6 251.7Z"/><path stroke="#000" stroke-width="2.7" stroke-linecap="round" d="M531.6 253.7h0M547.6 253.7h0M563.6 253.7h0M579.6 253.7h0M595.6 253.7h0M611.6 253.7h0M627.6 253.7h0M643.6 253.7h0M659.6 253.7h0M675.6 253.7h0M507.6 261.7h0M523.6 261.7h0M539.6 261.7h0M555.6 261.7h0M571.6 261.7h0M587.6 261.7h0M603.6 261.7h0M619.6 261.7h0M635.6 261.7h0M651.6 261.7h0M667.6 261.7h0M683.6 261.7h0M483.6 269.7h0M499.6 269.7h0M515.6 269.7h0M531.6 269.7h0M547.6 269.7h0M563.6 269.7h0M579.6 269.7h0M595.6 269.7h0M611.6 269.7h0M627.6 269.7h0M643.6 269.7h0M659.6 269.7h0M675.6 269.7h0M459.6 277.7h0M475.6 277.7h0M491.6 277.7h0M507.6 277.7h0M523.6 277.7h0M539.6 277.7h0M555.6 277.7h0M571.6 277.7h0M587.6 277.7h0M603.6 277.7h0M619.6 277.7h0M635.6 277.7h0M651.6 277.7h0M667.6 277.7h0M683.6 277.7h0M419.6 285.7h0M435.6 285.7h0M451.6 285.7h0M467.6 285.7h0M483.6 285.7h0M499.6 285.7h0M515.6 285.7h0M531.6 285.7h0M547.6 285.7h0M563.6 285.7h0M579.6 285.7h0M595.6 285.7h0M611.6 285.7h0M627.6 285.7h0M643.6 285.7h0M659.6 285.7h0M675.6 285.7h0M395.6 293.7h0M411.6 293.7h0M427.6 293.7h0M443.6 293.7h0M459.6 293.7h0M475.6 293.7h0M491.6 293.7h0M507.6 293.7h0M523.6 293.7h0M539.6 293.7h0M555.6 293.7h0M571.6 293.7h0M587.6 293.7h0M603.6 293.7h0M619.6 293.7h0M635.6 293.7h0M651.6 293.7h0M667.6 293.7h0M683.6 293.7h0M387.6 301.7h0M403.6 301.7h0M419.6 301.7h0M435.6 301.7h0M451.6 301.7h0M467.6 301.7h0M483.6 301.7h0M499.6 301.7h0M515.6 301.7h0M531.6 301.7h0M547.6 301.7h0M563.6 301.7h0M579.6 301.7h0M595.6 301.7h0M611.6 301.7h0M627.6 301.7h0M643.6 301.7h0M659.6 301.7h0M675.6 301.7h0M395.6 309.7h0M411.6 309.7h0M427.6 309.7h0M443.6 309.7h0M459.6 309.7h0M475.6 309.7h0M491.6 309.7h0M507.6 309.7h0M523.6 309.7h0M539.6 309.7h0M555.6 309.7h0M571.6 309.7h0M587.6 309.7h0M603.6 309.7h0M619.6 309.7h0M635.6 309.7h0M651.6 309.7h0M667.6 309.7h0M683.6 309.7h0M387.6 317.7h0M403.6 317.7h0M419.6 317.7h0M435.6 317.7h0M451.6 317.7h0M467.6 317.7h0M483.6 317.7h0M499.6 317.7h0M515.6 317.7h0M531.6 317.7h0M547.6 317.7h0M563.6 317.7h0M579.6 317.7h0M595.6 317.7h0M611.6 317.7h0M627.6 317.7h0M643.6 317.7h0M659.6 317.7h0M675.6 317.7h0M395.6 325.7h0M411.6 325.7h0M427.6 325.7h0M443.6 325.7h0M459.6 325.7h0M475.6 325.7h0M491.6 325.7h0M507.6 325.7h0M523.6 325.7h0M539.6 325.7h0M555.6 325.7h0M571.6 325.7h0M587.6 325.7h0M603.6 325.7h0M619.6 325.7h0M635.6 325.7h0M651.6 325.7h0M667.6 325.7h0M683.6 325.7h0M387.6 333.7h0M403.6 333.7h0M419.6 333.7h0M435.6 333.7h0M451.6 333.7h0M467.6 333.7h0M483.6 333.7h0M499.6 333.7h0M515.6 333.7h0M531.6 333.7h0M547.6 333.7h0M563.6 333.7h0M579.6 333.7h0M595.6 333.7h0M611.6 333.7h0M627.6 333.7h0M643.6 333.7h0M659.6 333.7h0M675.6 333.7h0M395.6 341.7h0M411.6 341.7h0M427.6 341.7h0M443.6 341.7h0M459.6 341.7h0M475.6 341.7h0M491.6 341.7h0M507.6 341.7h0M523.6 341.7h0M539.6 341.7h0M555.6 341.7h0M571.6 341.7h0M587.6 341.7h0M603.6 341.7h0M619.6 341.7h0M635.6 341.7h0M651.6 341.7h0M667.6 341.7h0M683.6 341.7h0M387.6 349.7h0M403.6 349.7h0M419.6 349.7h0M435.6 349.7h0M451.6 349.7h0M467.6 349.7h0M483.6 349.7h0M499.6 349.7h0M515.6 349.7h0M531.6 349.7h0M547.6 349.7h0M563.6 349.7h0M579.6 349.7h0M595.6 349.7h0M611.6 349.7h0M627.6 349.7h0M643.6 349.7h0M659.6 349.7h0M675.6 349.7h0M395.6 357.7h0M411.6 357.7h0M427.6 357.7h0M443.6 357.7h0M459.6 357.7h0M475.6 357.7h0M491.6 357.7h0M507.6 357.7h0M523.6 357.7h0M539.6 357.7h0M555.6 357.7h0M571.6 357.7h0M587.6 357.7h0M603.6 357.7h0M619.6 357.7h0M635.6 357.7h0M651.6 357.7h0M667.6 357.7h0M683.6 357.7h0M387.6 365.7h0M403.6 365.7h0M419.6 365.7h0M435.6 365.7h0M451.6 365.7h0M467.6 365.7h0M483.6 365.7h0M499.6 365.7h0M515.6 365.7h0M531.6 365.7h0M547.6 365.7h0M563.6 365.7h0M579.6 365.7h0M595.6 365.7h0M611.6 365.7h0M627.6 365.7h0M643.6 365.7h0M659.6 365.7h0M675.6 365.7h0M395.6 373.7h0M411.6 373.7h0M427.6 373.7h0M443.6 373.7h0M459.6 373.7h0M475.6 373.7h0M491.6 373.7h0M507.6 373.7h0M523.6 373.7h0M539.6 373.7h0M555.6 373.7h0M571.6 373.7h0M587.6 373.7h0M603.6 373.7h0M619.6 373.7h0M635.6 373.7h0M651.6 373.7h0M667.6 373.7h0M683.6 373.7h0M387.6 381.7h0M403.6 381.7h0M419.6 381.7h0M435.6 381.7h0M451.6 381.7h0M467.6 381.7h0M483.6 381.7h0M499.6 381.7h0M515.6 381.7h0M531.6 381.7h0M547.6 381.7h0M563.6 381.7h0M579.6 381.7h0M595.6 381.7h0M611.6 381.7h0M627.6 381.7h0M643.6 381.7h0M659.6 381.7h0M675.6 381.7h0M395.6 389.7h0M411.6 389.7h0M427.6 389.7h0M443.6 389.7h0M459.6 389.7h0M475.6 389.7h0M491.6 389.7h0M507.6 389.7h0M523.6 389.7h0M539.6 389.7h0M555.6 389.7h0M571.6 389.7h0M587.6 389.7h0M603.6 389.7h0M619.6 389.7h0M635.6 389.7h0M651.6 389.7h0M667.6 389.7h0M683.6 389.7h0M387.6 397.7h0M403.6 397.7h0M419.6 397.7h0M435.6 397.7h0M451.6 397.7h0M467.6 397.7h0M483.6 397.7h0M499.6 397.7h0M515.6 397.7h0M531.6 397.7h0M547.6 397.7h0M563.6 397.7h0M579.6 397.7h0M595.6 397.7h0M611.6 397.7h0M627.6 397.7h0M643.6 397.7h0M659.6 397.7h0M675.6 397.7h0M395.6 405.7h0M411.6 405.7h0M427.6 405.7h0M443.6 405.7h0M459.6 405.7h0M475.6 405.7h0M491.6 405.7h0M507.6 405.7h0M523.6 405.7h0M539.6 405.7h0M555.6 405.7h0M571.6 405.7h0M587.6 405.7h0M603.6 405.7h0M619.6 405.7h0M635.6 405.7h0M651.6 405.7h0M667.6 405.7h0M683.6 405.7h0M387.6 413.7h0M403.6 413.7h0M419.6 413.7h0M435.6 413.7h0M451.6 413.7h0M467.6 413.7h0M483.6 413.7h0M499.6 413.7h0M515.6 413.7h0M531.6 413.7h0M547.6 413.7h0M563.6 413.7h0M579.6 413.7h0M595.6 413.7h0M611.6 413.7h0M627.6 413.7h0M643.6 413.7h0M659.6 413.7h0M675.6 413.7h0M395.6 421.7h0M411.6 421.7h0M427.6 421.7h0M443.6 421.7h0M459.6 421.7h0M475.6 421.7h0M491.6 421.7h0M507.6 421.7h0M523.6 421.7h0M539.6 421.7h0M555.6 421.7h0M571.6 421.7h0M587.6 421.7h0M603.6 421.7h0M619.6 421.7h0M635.6 421.7h0M651.6 421.7h0M667.6 421.7h0M683.6 421.7h0M387.6 429.7h0M403.6 429.7h0M419.6 429.7h0M435.6 429.7h0M451.6 429.7h0M467.6 429.7h0M483.6 429.7h0M499.6 429.7h0M515.6 429.7h0M531.6 429.7h0M547.6 429.7h0M563.6 429.7h0M579.6 429.7h0M595.6 429.7h0M611.6 429.7h0M627.6 429.7h0M643.6 429.7h0M659.6 429.7h0M675.6 429.7h0M395.6 437.7h0M411.6 437.7h0M427.6 437.7h0M443.6 437.7h0M459.6 437.7h0M475.6 437.7h0M491.6 437.7h0M507.6 437.7h0M523.6 437.7h0M539.6 437.7h0M555.6 437.7h0M571.6 437.7h0M587.6 437.7h0M603.6 437.7h0M619.6 437.7h0M635.6 437.7h0M651.6 437.7h0M667.6 437.7h0M683.6 437.7h0"/><path fill="none" stroke="#000" stroke-width="0.8" stroke-linejoin="round" d="M599.8 377.8 601.3 375.9 602.4 375.2 600.9 376.7 599.8 377.8M605.7 370.4 607.2 368.9 606.5 370.0 605.7 370.4M586.8 384.5 587.5 383.8 587.1 384.5M370.6 381.9 379.9 386.4 381.8 390.8 385.5 395.3 389.2 397.5 393.7 396.0 395.2 392.7 395.9 396.8 396.3 400.5 395.9 404.2 396.7 407.9 397.8 411.7 398.9 415.4 400.4 419.1 401.9 422.8 403.4 426.5 404.8 430.3 406.7 434.0 408.2 437.0 409.3 441.4M420.1 441.4 422.3 436.6 422.3 432.1 423.4 426.5 423.8 419.1 426.4 416.1 431.3 413.1 435.0 409.4 439.4 405.3 443.2 402.0 446.9 399.8 448.7 396.0 452.5 394.2 456.2 393.8 459.9 393.1 462.1 391.2 465.5 390.8 467.0 394.5 468.1 396.8 469.6 398.6 472.9 402.4 475.9 406.1 476.6 411.7 475.9 415.4 479.2 416.1 483.0 413.1 485.9 412.4 488.2 415.4 488.9 419.1 490.4 424.7 491.9 430.3 491.9 435.8 491.5 441.4M494.1 441.4 494.5 435.8 495.2 432.1 496.7 428.4 497.1 425.1 499.0 424.7 500.4 427.3 502.7 428.0 505.7 429.5 507.5 431.7 509.0 434.4 512.0 435.8 513.8 436.6 515.0 441.4M521.3 441.4 522.4 436.2 525.0 435.8 528.7 434.0 531.3 431.0 531.7 427.3 531.3 423.6 530.2 418.4 528.0 415.4 524.3 412.4 521.3 408.7 518.7 405.0 519.0 402.0 521.3 399.4 522.4 397.5 525.0 395.3 527.6 394.5 530.6 394.9 533.6 394.9 534.3 397.5 535.0 399.4 536.2 399.0 535.8 396.0 538.0 394.9 541.7 393.8 545.5 392.3 547.7 390.8 549.9 391.9 552.9 390.5 556.6 389.7 559.6 388.2 562.2 386.4 564.8 383.8 567.0 381.9 569.6 379.7 570.0 376.3 572.2 374.5 574.5 370.7 577.1 368.1 578.2 365.2 575.2 362.2 578.6 360.0 578.2 357.7 575.2 355.1 574.5 353.3 572.6 349.2 569.6 346.6 568.9 344.7 571.9 341.4 574.1 339.5 577.1 338.0 580.8 336.5 577.5 335.4 574.1 334.3 570.8 336.1 567.8 336.5 567.0 333.9 564.1 332.4 562.6 330.6 563.3 329.1 565.9 329.1 568.9 328.0 571.5 325.7 574.5 324.2 577.1 322.8 579.7 324.2 578.2 326.5 577.1 328.3 576.0 330.6 577.8 329.8 580.1 328.3 582.7 327.2 587.1 326.5 589.4 327.6 591.2 328.0 590.1 331.3 591.6 334.7 594.2 334.7 596.1 336.5 595.7 339.1 595.7 342.8 594.9 346.2 597.5 346.6 600.5 345.4 603.5 345.1 606.1 344.0 606.8 341.7 606.5 339.1 606.1 336.1 603.5 332.8 601.6 330.2 599.4 328.7 599.8 326.8 602.4 325.7 605.0 323.9 607.6 322.8 608.0 320.5 610.2 317.9 611.7 316.4 613.5 314.9 616.1 314.2 618.0 315.3 620.6 315.7 623.6 314.6 627.3 312.7 631.0 309.7 634.7 307.1 637.7 304.5 639.9 301.5 642.2 298.9 645.2 296.3 647.0 293.4 647.8 289.6 648.1 286.7 648.9 283.3 650.4 280.7 651.1 278.1 649.6 276.6 647.4 275.5 644.8 273.6 641.4 273.3 637.3 275.5 634.7 273.3 633.6 271.8 628.4 271.0 629.2 269.6 632.9 267.3 636.6 265.5 640.3 263.2 644.0 260.6 648.5 258.0 652.6 256.2 656.7 254.3 660.8 253.9 666.4 253.9 671.9 254.3 677.5 254.3 681.2 252.8 686.8 253.2M575.2 381.5 577.5 381.2 578.6 382.6 577.5 386.4 576.7 389.3 574.8 393.1 573.7 391.6 572.2 389.3 571.9 386.7 573.0 384.1 574.5 382.3 575.2 381.5M529.1 403.5 529.5 406.1 532.4 407.2 534.7 406.5 536.5 403.5 538.0 401.6 536.9 400.1 534.7 400.5 532.4 400.9 530.6 402.0 529.1 403.5M652.2 306.0 655.2 308.2 658.2 310.1 661.9 311.6 665.6 310.1 664.9 312.7 667.5 313.5 666.0 314.2 661.9 315.3 658.2 318.7 655.2 317.9 651.5 316.4 649.2 316.8 650.4 319.4 647.4 320.9 645.9 320.5 646.3 317.9 645.2 316.4 647.0 314.2 650.0 314.2 651.1 312.0 652.2 309.7 652.2 306.0M651.1 320.9 651.5 324.2 653.0 327.6 651.9 330.2 650.0 332.1 649.2 334.3 649.6 337.6 648.1 339.9 648.9 342.1 647.0 344.0 645.5 345.1 645.2 343.2 644.4 344.0 642.6 344.3 641.4 346.2 639.6 345.8 636.6 345.8 634.4 347.3 633.3 348.8 630.3 350.3 627.7 347.3 628.8 345.8 624.7 345.8 621.0 346.9 617.6 347.7 614.7 348.4 612.0 348.4 612.4 346.9 615.0 345.8 618.7 343.2 621.3 342.8 625.4 342.5 629.2 342.5 631.4 341.0 633.6 338.0 634.0 335.8 635.9 335.4 634.7 338.0 637.0 337.6 640.3 335.8 642.6 333.5 644.8 330.6 645.9 327.6 645.2 326.1 645.9 323.5 647.0 321.6 649.2 321.6 650.4 321.6 651.1 320.9M612.0 348.8 614.3 349.9 615.0 352.5 613.9 358.1 611.3 359.6 609.4 358.5 609.8 355.5 608.0 353.3 607.2 351.0 610.2 349.9 612.0 348.8M616.1 350.7 618.0 352.5 619.9 352.9 622.5 350.3 624.7 351.0 626.2 349.2 625.4 347.7 621.7 347.3 619.9 348.4 618.0 349.2 616.1 350.7M653.3 303.8 652.6 301.5 653.3 298.2 654.1 294.5 653.3 290.8 653.7 287.0 654.1 283.3 652.2 279.6 652.6 275.9 655.2 272.9 656.3 272.5 657.8 276.6 658.2 280.7 657.8 285.2 659.3 288.2 662.3 291.9 657.8 291.5 655.6 296.3 657.1 298.9 658.5 301.9 655.6 301.2 653.3 303.8M511.2 282.9 513.8 282.2 517.6 280.3 521.3 278.1 525.0 276.3 528.7 274.0 531.7 271.0 533.2 268.1 532.1 267.3 530.6 269.6 527.6 272.5 523.1 275.9 519.4 278.5 515.7 281.1 512.7 282.2 511.2 282.9M400.4 306.4 398.9 305.3 399.6 303.8 402.2 302.3 406.0 301.5 411.5 301.9 419.7 301.5 419.0 302.7 411.5 303.0 406.0 303.0 402.2 303.8 400.4 305.3 401.5 306.0M573.7 406.1 575.2 405.7 579.7 406.1 579.7 410.9 577.1 415.8 577.5 419.1 578.6 422.1 580.8 422.1 584.5 423.6 586.8 426.5 585.6 427.3 582.7 425.8 580.8 424.7 578.2 423.6 575.2 423.9 573.7 421.7 574.8 420.6 573.7 419.8 571.5 418.0 571.1 414.6 573.0 414.3 573.7 406.1M572.6 424.7 576.0 425.1 577.1 428.0 575.6 429.5 573.7 428.4 572.6 424.7M578.9 430.6 582.3 432.1 580.8 435.5 578.6 435.8 578.9 430.6M587.5 428.4 592.0 429.5 592.3 433.2 590.1 434.0 587.5 431.7 587.5 428.4M582.7 434.4 584.5 435.8 583.4 439.6 580.8 439.2 582.7 434.4M587.5 432.1 590.1 433.2 590.1 437.3 587.9 437.0 587.5 432.1M586.0 433.2 586.8 435.8 584.9 438.4 586.0 433.2M568.9 432.9 570.4 435.8 565.9 440.3 561.5 443.7 563.3 440.7 568.9 432.9M422.3 438.4 423.8 438.4 426.4 443.3 422.0 445.1 422.3 438.4"/></g>
<rect x="385.5" y="251.7" width="297.6" height="186.0" fill="none" stroke="#222" stroke-width="1"/>
<path stroke="#222" stroke-width="1" d="M382.5 437.7h3.0M382.5 419.1h3.0M379.5 400.5h6.0M382.5 381.9h3.0M382.5 363.3h3.0M382.5 344.7h3.0M379.5 326.1h6.0M382.5 307.5h3.0M382.5 288.9h3.0M382.5 270.3h3.0M379.5 251.7h6.0M385.5 437.7v3.2M422.7 437.7v3.2M459.9 437.7v6.8M497.1 437.7v3.2M534.3 437.7v3.2M571.5 437.7v6.8M608.7 437.7v3.2M645.9 437.7v3.2M683.1 437.7v6.8"/>
<rect x="127.40" y="467.4" width="21.96" height="10.3" fill="#024d9a"/>
<rect x="148.36" y="467.4" width="21.96" height="10.3" fill="#0558a9"/>
<rect x="169.32" y="467.4" width="21.96" height="10.3" fill="#0068b4"/>
<rect x="190.28" y="467.4" width="21.96" height="10.3" fill="#0088c8"/>
<rect x="211.24" y="467.4" width="21.96" height="10.3" fill="#00aadd"/>
<rect x="232.20" y="467.4" width="21.96" height="10.3" fill="#4bc2e9"/>
<rect x="253.15" y="467.4" width="21.96" height="10.3" fill="#45bfe7"/>
<rect x="274.11" y="467.4" width="21.96" height="10.3" fill="#5ecbef"/>
<rect x="295.07" y="467.4" width="21.96" height="10.3" fill="#78d5f5"/>
<rect x="316.03" y="467.4" width="21.96" height="10.3" fill="#9fdff8"/>
<rect x="336.99" y="467.4" width="21.96" height="10.3" fill="#c0ebf9"/>
<rect x="357.95" y="467.4" width="21.96" height="10.3" fill="#fff5d2"/>
<rect x="378.91" y="467.4" width="21.96" height="10.3" fill="#ffe99e"/>
<rect x="399.87" y="467.4" width="21.96" height="10.3" fill="#fed672"/>
<rect x="420.83" y="467.4" width="21.96" height="10.3" fill="#ffc040"/>
<rect x="441.79" y="467.4" width="21.96" height="10.3" fill="#ffa622"/>
<rect x="462.75" y="467.4" width="21.96" height="10.3" fill="#ffa21e"/>
<rect x="483.70" y="467.4" width="21.96" height="10.3" fill="#ff8c1a"/>
<rect x="504.66" y="467.4" width="21.96" height="10.3" fill="#ff6a1e"/>
<rect x="525.62" y="467.4" width="21.96" height="10.3" fill="#ff4a24"/>
<rect x="546.58" y="467.4" width="21.96" height="10.3" fill="#fa2226"/>
<rect x="567.54" y="467.4" width="20.96" height="10.3" fill="#de1420"/>
<rect x="127.4" y="467.4" width="461.1" height="10.3" fill="none" stroke="#333" stroke-width="1"/>
<g style="filter:grayscale(1)">
<text transform="translate(0,-6.87) scale(1,1.04)" x="25.8" y="171.8" text-anchor="end" class="lb">20N</text>
<text transform="translate(0,-3.90) scale(1,1.04)" x="25.8" y="97.4" text-anchor="end" class="lb">40N</text>
<text transform="translate(0,-0.92) scale(1,1.04)" x="25.8" y="23.0" text-anchor="end" class="lb">60N</text>
<text transform="translate(0,-8.93) scale(1,1.04)" x="107.8" y="223.3" text-anchor="middle" class="lb">90E</text>
<text transform="translate(0,-8.93) scale(1,1.04)" x="219.4" y="223.3" text-anchor="middle" class="lb">120E</text>
<text transform="translate(0,-8.93) scale(1,1.04)" x="331.0" y="223.3" text-anchor="middle" class="lb">150E</text>
<text transform="translate(0,-0.46) scale(1,1.04)" x="38.9" y="11.5" class="tt">(a) nAMO<tspan class="sub" dy="2.3">CORE</tspan><tspan dy="-2.3" dx="1"> & nWPSST</tspan></text>
<text transform="translate(0,-6.87) scale(1,1.04)" x="378.0" y="171.8" text-anchor="end" class="lb">20N</text>
<text transform="translate(0,-3.90) scale(1,1.04)" x="378.0" y="97.4" text-anchor="end" class="lb">40N</text>
<text transform="translate(0,-0.92) scale(1,1.04)" x="378.0" y="23.0" text-anchor="end" class="lb">60N</text>
<text transform="translate(0,-8.93) scale(1,1.04)" x="460.0" y="223.3" text-anchor="middle" class="lb">90E</text>
<text transform="translate(0,-8.93) scale(1,1.04)" x="571.6" y="223.3" text-anchor="middle" class="lb">120E</text>
<text transform="translate(0,-8.93) scale(1,1.04)" x="685" y="223.3" text-anchor="end" class="lb">150E</text>
<text transform="translate(0,-0.46) scale(1,1.04)" x="391.1" y="11.5" class="tt">(b) pAMO<tspan class="sub" dy="2.3">CORE</tspan><tspan dy="-2.3" dx="1"> \ pWPSST</tspan></text>
<text transform="translate(0,-16.24) scale(1,1.04)" x="25.7" y="406.0" text-anchor="end" class="lb">20N</text>
<text transform="translate(0,-13.26) scale(1,1.04)" x="25.7" y="331.6" text-anchor="end" class="lb">40N</text>
<text transform="translate(0,-10.29) scale(1,1.04)" x="25.7" y="257.2" text-anchor="end" class="lb">60N</text>
<text transform="translate(0,-18.30) scale(1,1.04)" x="107.7" y="457.5" text-anchor="middle" class="lb">90E</text>
<text transform="translate(0,-18.30) scale(1,1.04)" x="219.3" y="457.5" text-anchor="middle" class="lb">120E</text>
<text transform="translate(0,-18.30) scale(1,1.04)" x="330.9" y="457.5" text-anchor="middle" class="lb">150E</text>
<text transform="translate(0,-9.83) scale(1,1.04)" x="38.8" y="245.7" class="tt">(c) pWPSST \ pAMO<tspan class="sub" dy="2.3">CORE</tspan><tspan dy="-2.3" dx="1"></tspan></text>
<text transform="translate(0,-16.24) scale(1,1.04)" x="377.9" y="406.0" text-anchor="end" class="lb">20N</text>
<text transform="translate(0,-13.26) scale(1,1.04)" x="377.9" y="331.6" text-anchor="end" class="lb">40N</text>
<text transform="translate(0,-10.29) scale(1,1.04)" x="377.9" y="257.2" text-anchor="end" class="lb">60N</text>
<text transform="translate(0,-18.30) scale(1,1.04)" x="459.9" y="457.5" text-anchor="middle" class="lb">90E</text>
<text transform="translate(0,-18.30) scale(1,1.04)" x="571.5" y="457.5" text-anchor="middle" class="lb">120E</text>
<text transform="translate(0,-18.30) scale(1,1.04)" x="685" y="457.5" text-anchor="end" class="lb">150E</text>
<text transform="translate(0,-9.83) scale(1,1.04)" x="391.0" y="245.7" class="tt">(d) pAMO<tspan class="sub" dy="2.3">CORE</tspan><tspan dy="-2.3" dx="1"> & pWPSST</tspan></text>
<text transform="translate(0,-19.78) scale(1,1.04)" x="148.9" y="494.6" text-anchor="middle" class="lb"><tspan>10</tspan></text>
<text transform="translate(0,-19.78) scale(1,1.04)" x="141.0" y="494.6" text-anchor="end" class="lb">-</text>
<text transform="translate(0,-19.78) scale(1,1.04)" x="232.7" y="494.6" text-anchor="middle" class="lb"><tspan>6</tspan></text>
<text transform="translate(0,-19.78) scale(1,1.04)" x="228.7" y="494.6" text-anchor="end" class="lb">-</text>
<text transform="translate(0,-19.78) scale(1,1.04)" x="316.5" y="494.6" text-anchor="middle" class="lb"><tspan>2</tspan></text>
<text transform="translate(0,-19.78) scale(1,1.04)" x="312.6" y="494.6" text-anchor="end" class="lb">-</text>
<text transform="translate(0,-19.78) scale(1,1.04)" x="400.4" y="494.6" text-anchor="middle" class="lb">2</text>
<text transform="translate(0,-19.78) scale(1,1.04)" x="484.2" y="494.6" text-anchor="middle" class="lb">6</text>
<text transform="translate(0,-19.78) scale(1,1.04)" x="568.0" y="494.6" text-anchor="middle" class="lb">10</text>
</g>
</svg></body></html>
